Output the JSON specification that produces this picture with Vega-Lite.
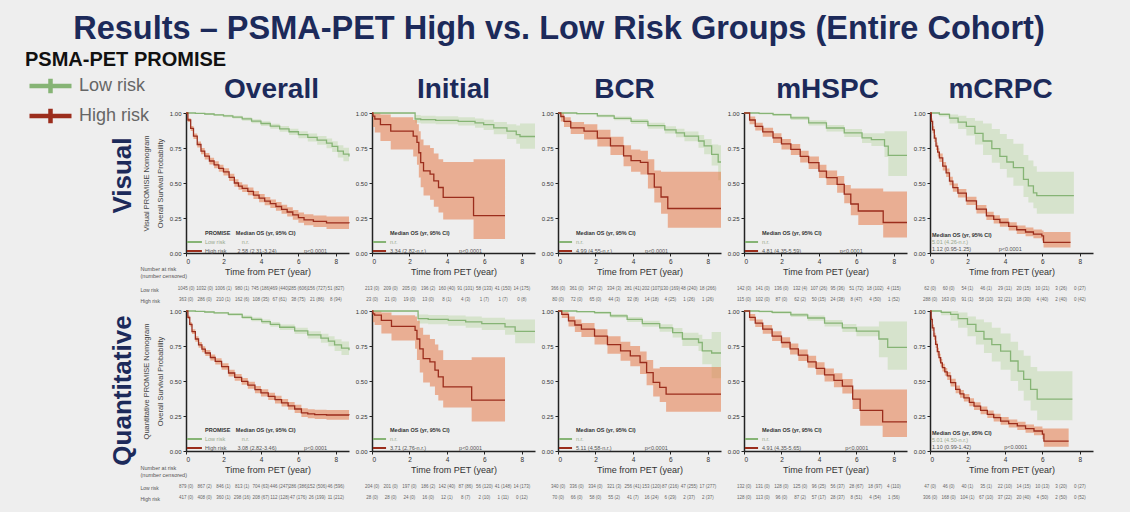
{
  "$schema": "https://vega.github.io/schema/vega-lite/v6.json",
  "background": "#eeeeee",
  "padding": {"left": 25, "top": 12, "right": 60, "bottom": 30},
  "title": {
    "text": "Results – PSMA-PET High vs. Low Risk Groups (Entire Cohort)",
    "fontSize": 32.5, "fontWeight": "bold", "color": "#1c2a5a",
    "anchor": "middle", "frame": "bounds", "offset": 5, "dx": 0
  },
  "config": {
    "font": "Liberation Sans",
    "view": {"stroke": null},
    "axis": {"grid": false, "domainColor": "#222222", "domainWidth": 1.5, "tickColor": "#222222", "tickSize": 3, "labelFontSize": 6, "labelColor": "#333333", "titleFontSize": 9, "titleFontWeight": "normal", "titleColor": "#333333", "labelPadding": 2},
    "axisX": {"titlePadding": 3, "labelFontSize": 6.5},
    "title": {"fontSize": 28, "fontWeight": "bold", "color": "#1c2a5a", "anchor": "middle", "frame": "group", "offset": 6}
  },
  "datasets": {
    "visual_overall": [
      {"risk":"Low risk","t":0,"s":1,"lo":1,"hi":1},
      {"risk":"Low risk","t":0.5,"s":0.997,"lo":0.993,"hi":1},
      {"risk":"Low risk","t":1,"s":0.993,"lo":0.987,"hi":0.998},
      {"risk":"Low risk","t":1.5,"s":0.987,"lo":0.979,"hi":0.993},
      {"risk":"Low risk","t":2,"s":0.98,"lo":0.97,"hi":0.988},
      {"risk":"Low risk","t":2.5,"s":0.971,"lo":0.96,"hi":0.981},
      {"risk":"Low risk","t":3,"s":0.958,"lo":0.945,"hi":0.97},
      {"risk":"Low risk","t":3.5,"s":0.942,"lo":0.927,"hi":0.956},
      {"risk":"Low risk","t":4,"s":0.925,"lo":0.908,"hi":0.941},
      {"risk":"Low risk","t":4.5,"s":0.906,"lo":0.887,"hi":0.924},
      {"risk":"Low risk","t":5,"s":0.887,"lo":0.866,"hi":0.907},
      {"risk":"Low risk","t":5.5,"s":0.866,"lo":0.843,"hi":0.888},
      {"risk":"Low risk","t":6,"s":0.845,"lo":0.819,"hi":0.869},
      {"risk":"Low risk","t":6.5,"s":0.826,"lo":0.797,"hi":0.853},
      {"risk":"Low risk","t":7,"s":0.806,"lo":0.774,"hi":0.836},
      {"risk":"Low risk","t":7.5,"s":0.785,"lo":0.749,"hi":0.818},
      {"risk":"Low risk","t":7.8,"s":0.762,"lo":0.722,"hi":0.799},
      {"risk":"Low risk","t":8.1,"s":0.728,"lo":0.682,"hi":0.77},
      {"risk":"Low risk","t":8.4,"s":0.706,"lo":0.655,"hi":0.752},
      {"risk":"Low risk","t":8.7,"s":0.69,"lo":0.636,"hi":0.74},
      {"risk":"High risk","t":0,"s":1,"lo":1,"hi":1},
      {"risk":"High risk","t":0.1,"s":0.95,"lo":0.935,"hi":0.963},
      {"risk":"High risk","t":0.25,"s":0.89,"lo":0.872,"hi":0.907},
      {"risk":"High risk","t":0.4,"s":0.835,"lo":0.815,"hi":0.854},
      {"risk":"High risk","t":0.6,"s":0.775,"lo":0.753,"hi":0.796},
      {"risk":"High risk","t":0.8,"s":0.728,"lo":0.705,"hi":0.75},
      {"risk":"High risk","t":1,"s":0.692,"lo":0.668,"hi":0.715},
      {"risk":"High risk","t":1.25,"s":0.657,"lo":0.632,"hi":0.681},
      {"risk":"High risk","t":1.5,"s":0.63,"lo":0.605,"hi":0.655},
      {"risk":"High risk","t":1.75,"s":0.605,"lo":0.58,"hi":0.63},
      {"risk":"High risk","t":2,"s":0.58,"lo":0.554,"hi":0.605},
      {"risk":"High risk","t":2.3,"s":0.54,"lo":0.514,"hi":0.566},
      {"risk":"High risk","t":2.58,"s":0.5,"lo":0.474,"hi":0.527},
      {"risk":"High risk","t":2.8,"s":0.478,"lo":0.451,"hi":0.505},
      {"risk":"High risk","t":3,"s":0.462,"lo":0.435,"hi":0.489},
      {"risk":"High risk","t":3.3,"s":0.44,"lo":0.412,"hi":0.467},
      {"risk":"High risk","t":3.6,"s":0.414,"lo":0.386,"hi":0.442},
      {"risk":"High risk","t":3.9,"s":0.392,"lo":0.363,"hi":0.421},
      {"risk":"High risk","t":4.2,"s":0.37,"lo":0.341,"hi":0.4},
      {"risk":"High risk","t":4.5,"s":0.352,"lo":0.322,"hi":0.383},
      {"risk":"High risk","t":4.8,"s":0.332,"lo":0.301,"hi":0.364},
      {"risk":"High risk","t":5.1,"s":0.312,"lo":0.28,"hi":0.345},
      {"risk":"High risk","t":5.4,"s":0.293,"lo":0.26,"hi":0.327},
      {"risk":"High risk","t":5.7,"s":0.272,"lo":0.238,"hi":0.308},
      {"risk":"High risk","t":6,"s":0.252,"lo":0.216,"hi":0.29},
      {"risk":"High risk","t":6.3,"s":0.236,"lo":0.198,"hi":0.276},
      {"risk":"High risk","t":6.8,"s":0.226,"lo":0.186,"hi":0.268},
      {"risk":"High risk","t":7.5,"s":0.215,"lo":0.172,"hi":0.26},
      {"risk":"High risk","t":8.7,"s":0.212,"lo":0.168,"hi":0.258}
    ],
    "visual_initial": [
      {"risk":"Low risk","t":0,"s":1,"lo":0.995,"hi":1},
      {"risk":"Low risk","t":2.3,"s":0.957,"lo":0.93,"hi":0.985},
      {"risk":"Low risk","t":2.6,"s":0.952,"lo":0.925,"hi":0.98},
      {"risk":"Low risk","t":3.4,"s":0.948,"lo":0.92,"hi":0.976},
      {"risk":"Low risk","t":4.6,"s":0.94,"lo":0.91,"hi":0.97},
      {"risk":"Low risk","t":5.5,"s":0.93,"lo":0.895,"hi":0.96},
      {"risk":"Low risk","t":5.96,"s":0.917,"lo":0.878,"hi":0.952},
      {"risk":"Low risk","t":6.5,"s":0.894,"lo":0.848,"hi":0.935},
      {"risk":"Low risk","t":7.2,"s":0.87,"lo":0.815,"hi":0.92},
      {"risk":"Low risk","t":7.7,"s":0.846,"lo":0.78,"hi":0.91},
      {"risk":"Low risk","t":7.9,"s":0.832,"lo":0.745,"hi":0.925},
      {"risk":"Low risk","t":8.7,"s":0.832,"lo":0.745,"hi":0.925},
      {"risk":"High risk","t":0,"s":1,"lo":1,"hi":1},
      {"risk":"High risk","t":0.05,"s":0.978,"lo":0.9,"hi":1},
      {"risk":"High risk","t":0.15,"s":0.957,"lo":0.86,"hi":1},
      {"risk":"High risk","t":0.45,"s":0.917,"lo":0.8,"hi":0.99},
      {"risk":"High risk","t":1,"s":0.87,"lo":0.74,"hi":0.97},
      {"risk":"High risk","t":2.2,"s":0.835,"lo":0.69,"hi":0.95},
      {"risk":"High risk","t":2.4,"s":0.79,"lo":0.63,"hi":0.92},
      {"risk":"High risk","t":2.5,"s":0.716,"lo":0.54,"hi":0.87},
      {"risk":"High risk","t":2.6,"s":0.645,"lo":0.47,"hi":0.81},
      {"risk":"High risk","t":2.75,"s":0.586,"lo":0.41,"hi":0.77},
      {"risk":"High risk","t":3.1,"s":0.563,"lo":0.38,"hi":0.75},
      {"risk":"High risk","t":3.3,"s":0.515,"lo":0.33,"hi":0.71},
      {"risk":"High risk","t":3.55,"s":0.468,"lo":0.29,"hi":0.67},
      {"risk":"High risk","t":3.8,"s":0.397,"lo":0.24,"hi":0.65},
      {"risk":"High risk","t":5.42,"s":0.267,"lo":0.1,"hi":0.67},
      {"risk":"High risk","t":7.1,"s":0.267,"lo":0.1,"hi":0.67}
    ],
    "visual_bcr": [
      {"risk":"Low risk","t":0,"s":1,"lo":1,"hi":1},
      {"risk":"Low risk","t":1,"s":0.995,"lo":0.99,"hi":1},
      {"risk":"Low risk","t":2.1,"s":0.98,"lo":0.97,"hi":0.99},
      {"risk":"Low risk","t":3,"s":0.962,"lo":0.948,"hi":0.975},
      {"risk":"Low risk","t":3.9,"s":0.94,"lo":0.922,"hi":0.957},
      {"risk":"Low risk","t":4.8,"s":0.91,"lo":0.888,"hi":0.93},
      {"risk":"Low risk","t":5.7,"s":0.88,"lo":0.853,"hi":0.905},
      {"risk":"Low risk","t":6.3,"s":0.858,"lo":0.826,"hi":0.887},
      {"risk":"Low risk","t":6.75,"s":0.835,"lo":0.798,"hi":0.868},
      {"risk":"Low risk","t":7.5,"s":0.8,"lo":0.752,"hi":0.843},
      {"risk":"Low risk","t":7.8,"s":0.765,"lo":0.706,"hi":0.815},
      {"risk":"Low risk","t":8.2,"s":0.705,"lo":0.625,"hi":0.775},
      {"risk":"Low risk","t":8.55,"s":0.65,"lo":0.52,"hi":0.77},
      {"risk":"Low risk","t":8.7,"s":0.65,"lo":0.52,"hi":0.77},
      {"risk":"High risk","t":0,"s":1,"lo":1,"hi":1},
      {"risk":"High risk","t":0.15,"s":0.975,"lo":0.94,"hi":1},
      {"risk":"High risk","t":0.32,"s":0.94,"lo":0.9,"hi":0.97},
      {"risk":"High risk","t":0.68,"s":0.894,"lo":0.85,"hi":0.935},
      {"risk":"High risk","t":1.39,"s":0.87,"lo":0.81,"hi":0.92},
      {"risk":"High risk","t":2.1,"s":0.82,"lo":0.76,"hi":0.88},
      {"risk":"High risk","t":2.8,"s":0.765,"lo":0.7,"hi":0.83},
      {"risk":"High risk","t":3.5,"s":0.694,"lo":0.62,"hi":0.77},
      {"risk":"High risk","t":3.9,"s":0.66,"lo":0.58,"hi":0.74},
      {"risk":"High risk","t":4.4,"s":0.647,"lo":0.56,"hi":0.73},
      {"risk":"High risk","t":4.8,"s":0.565,"lo":0.46,"hi":0.67},
      {"risk":"High risk","t":5.14,"s":0.47,"lo":0.36,"hi":0.59},
      {"risk":"High risk","t":5.5,"s":0.4,"lo":0.28,"hi":0.58},
      {"risk":"High risk","t":5.86,"s":0.318,"lo":0.18,"hi":0.58},
      {"risk":"High risk","t":8.7,"s":0.318,"lo":0.18,"hi":0.58}
    ],
    "visual_mhspc": [
      {"risk":"Low risk","t":0,"s":1,"lo":1,"hi":1},
      {"risk":"Low risk","t":0.8,"s":0.997,"lo":0.99,"hi":1},
      {"risk":"Low risk","t":1.55,"s":0.988,"lo":0.978,"hi":0.997},
      {"risk":"Low risk","t":2.5,"s":0.965,"lo":0.95,"hi":0.978},
      {"risk":"Low risk","t":3.45,"s":0.93,"lo":0.91,"hi":0.948},
      {"risk":"Low risk","t":4.4,"s":0.893,"lo":0.868,"hi":0.915},
      {"risk":"Low risk","t":5.35,"s":0.858,"lo":0.828,"hi":0.885},
      {"risk":"Low risk","t":6.3,"s":0.822,"lo":0.785,"hi":0.855},
      {"risk":"Low risk","t":6.8,"s":0.81,"lo":0.765,"hi":0.855},
      {"risk":"Low risk","t":7.5,"s":0.763,"lo":0.685,"hi":0.87},
      {"risk":"Low risk","t":7.7,"s":0.697,"lo":0.55,"hi":0.87},
      {"risk":"Low risk","t":8.7,"s":0.697,"lo":0.55,"hi":0.87},
      {"risk":"High risk","t":0,"s":1,"lo":1,"hi":1},
      {"risk":"High risk","t":0.3,"s":0.95,"lo":0.92,"hi":0.975},
      {"risk":"High risk","t":0.6,"s":0.905,"lo":0.875,"hi":0.93},
      {"risk":"High risk","t":1,"s":0.865,"lo":0.83,"hi":0.895},
      {"risk":"High risk","t":1.55,"s":0.822,"lo":0.785,"hi":0.855},
      {"risk":"High risk","t":2,"s":0.78,"lo":0.74,"hi":0.815},
      {"risk":"High risk","t":2.5,"s":0.74,"lo":0.7,"hi":0.778},
      {"risk":"High risk","t":3,"s":0.69,"lo":0.647,"hi":0.73},
      {"risk":"High risk","t":3.45,"s":0.645,"lo":0.6,"hi":0.69},
      {"risk":"High risk","t":4,"s":0.585,"lo":0.535,"hi":0.63},
      {"risk":"High risk","t":4.4,"s":0.538,"lo":0.485,"hi":0.59},
      {"risk":"High risk","t":4.97,"s":0.49,"lo":0.43,"hi":0.55},
      {"risk":"High risk","t":5.35,"s":0.42,"lo":0.355,"hi":0.485},
      {"risk":"High risk","t":5.7,"s":0.35,"lo":0.27,"hi":0.46},
      {"risk":"High risk","t":6.1,"s":0.3,"lo":0.2,"hi":0.46},
      {"risk":"High risk","t":7.43,"s":0.218,"lo":0.11,"hi":0.44},
      {"risk":"High risk","t":8.7,"s":0.218,"lo":0.11,"hi":0.44}
    ],
    "visual_mcrpc": [
      {"risk":"Low risk","t":0,"s":1,"lo":1,"hi":1},
      {"risk":"Low risk","t":0.5,"s":0.99,"lo":0.975,"hi":1},
      {"risk":"Low risk","t":1.04,"s":0.964,"lo":0.925,"hi":0.99},
      {"risk":"Low risk","t":1.5,"s":0.935,"lo":0.885,"hi":0.98},
      {"risk":"Low risk","t":1.94,"s":0.905,"lo":0.84,"hi":0.965},
      {"risk":"Low risk","t":2.4,"s":0.855,"lo":0.775,"hi":0.945},
      {"risk":"Low risk","t":2.83,"s":0.8,"lo":0.7,"hi":0.925},
      {"risk":"Low risk","t":3.3,"s":0.745,"lo":0.645,"hi":0.885},
      {"risk":"Low risk","t":3.73,"s":0.69,"lo":0.6,"hi":0.85},
      {"risk":"Low risk","t":4.1,"s":0.65,"lo":0.54,"hi":0.815},
      {"risk":"Low risk","t":4.45,"s":0.61,"lo":0.48,"hi":0.78},
      {"risk":"Low risk","t":4.99,"s":0.526,"lo":0.4,"hi":0.7},
      {"risk":"Low risk","t":5.25,"s":0.48,"lo":0.36,"hi":0.66},
      {"risk":"Low risk","t":5.52,"s":0.43,"lo":0.32,"hi":0.62},
      {"risk":"Low risk","t":5.7,"s":0.41,"lo":0.28,"hi":0.58},
      {"risk":"Low risk","t":7.68,"s":0.41,"lo":0.28,"hi":0.58},
      {"risk":"High risk","t":0,"s":1,"lo":1,"hi":1},
      {"risk":"High risk","t":0.07,"s":0.94,"lo":0.92,"hi":0.96},
      {"risk":"High risk","t":0.14,"s":0.88,"lo":0.855,"hi":0.905},
      {"risk":"High risk","t":0.23,"s":0.82,"lo":0.793,"hi":0.845},
      {"risk":"High risk","t":0.32,"s":0.763,"lo":0.735,"hi":0.79},
      {"risk":"High risk","t":0.41,"s":0.72,"lo":0.69,"hi":0.748},
      {"risk":"High risk","t":0.5,"s":0.68,"lo":0.65,"hi":0.71},
      {"risk":"High risk","t":0.68,"s":0.62,"lo":0.59,"hi":0.65},
      {"risk":"High risk","t":0.86,"s":0.573,"lo":0.543,"hi":0.603},
      {"risk":"High risk","t":1.04,"s":0.514,"lo":0.484,"hi":0.544},
      {"risk":"High risk","t":1.22,"s":0.467,"lo":0.437,"hi":0.497},
      {"risk":"High risk","t":1.49,"s":0.427,"lo":0.397,"hi":0.457},
      {"risk":"High risk","t":1.94,"s":0.372,"lo":0.342,"hi":0.402},
      {"risk":"High risk","t":2.48,"s":0.313,"lo":0.283,"hi":0.343},
      {"risk":"High risk","t":3.01,"s":0.265,"lo":0.236,"hi":0.295},
      {"risk":"High risk","t":3.4,"s":0.24,"lo":0.21,"hi":0.27},
      {"risk":"High risk","t":3.73,"s":0.218,"lo":0.188,"hi":0.248},
      {"risk":"High risk","t":4.2,"s":0.19,"lo":0.16,"hi":0.22},
      {"risk":"High risk","t":4.63,"s":0.166,"lo":0.136,"hi":0.197},
      {"risk":"High risk","t":5.1,"s":0.15,"lo":0.12,"hi":0.182},
      {"risk":"High risk","t":5.52,"s":0.135,"lo":0.105,"hi":0.168},
      {"risk":"High risk","t":5.97,"s":0.123,"lo":0.09,"hi":0.16},
      {"risk":"High risk","t":6.06,"s":0.076,"lo":0.04,"hi":0.15},
      {"risk":"High risk","t":7.5,"s":0.076,"lo":0.04,"hi":0.15}
    ],
    "quant_overall": [
      {"risk":"Low risk","t":0,"s":1,"lo":1,"hi":1},
      {"risk":"Low risk","t":0.5,"s":0.997,"lo":0.993,"hi":1},
      {"risk":"Low risk","t":1,"s":0.993,"lo":0.987,"hi":0.998},
      {"risk":"Low risk","t":1.5,"s":0.987,"lo":0.98,"hi":0.993},
      {"risk":"Low risk","t":2.26,"s":0.976,"lo":0.966,"hi":0.985},
      {"risk":"Low risk","t":3,"s":0.955,"lo":0.943,"hi":0.967},
      {"risk":"Low risk","t":3.5,"s":0.94,"lo":0.926,"hi":0.953},
      {"risk":"Low risk","t":4.04,"s":0.924,"lo":0.908,"hi":0.939},
      {"risk":"Low risk","t":4.5,"s":0.905,"lo":0.887,"hi":0.922},
      {"risk":"Low risk","t":5,"s":0.884,"lo":0.864,"hi":0.903},
      {"risk":"Low risk","t":5.8,"s":0.858,"lo":0.835,"hi":0.88},
      {"risk":"Low risk","t":6.5,"s":0.83,"lo":0.803,"hi":0.856},
      {"risk":"Low risk","t":7.2,"s":0.806,"lo":0.774,"hi":0.837},
      {"risk":"Low risk","t":7.6,"s":0.785,"lo":0.748,"hi":0.82},
      {"risk":"Low risk","t":7.93,"s":0.758,"lo":0.715,"hi":0.798},
      {"risk":"Low risk","t":8.3,"s":0.735,"lo":0.685,"hi":0.782},
      {"risk":"Low risk","t":8.7,"s":0.72,"lo":0.665,"hi":0.772},
      {"risk":"High risk","t":0,"s":1,"lo":1,"hi":1},
      {"risk":"High risk","t":0.1,"s":0.955,"lo":0.942,"hi":0.967},
      {"risk":"High risk","t":0.2,"s":0.905,"lo":0.889,"hi":0.92},
      {"risk":"High risk","t":0.32,"s":0.853,"lo":0.835,"hi":0.87},
      {"risk":"High risk","t":0.5,"s":0.8,"lo":0.781,"hi":0.819},
      {"risk":"High risk","t":0.67,"s":0.758,"lo":0.738,"hi":0.778},
      {"risk":"High risk","t":0.85,"s":0.727,"lo":0.706,"hi":0.748},
      {"risk":"High risk","t":1.03,"s":0.7,"lo":0.678,"hi":0.721},
      {"risk":"High risk","t":1.3,"s":0.668,"lo":0.646,"hi":0.69},
      {"risk":"High risk","t":1.56,"s":0.64,"lo":0.617,"hi":0.662},
      {"risk":"High risk","t":1.9,"s":0.603,"lo":0.58,"hi":0.626},
      {"risk":"High risk","t":2.27,"s":0.557,"lo":0.533,"hi":0.58},
      {"risk":"High risk","t":2.6,"s":0.526,"lo":0.502,"hi":0.55},
      {"risk":"High risk","t":2.97,"s":0.498,"lo":0.473,"hi":0.522},
      {"risk":"High risk","t":3.3,"s":0.47,"lo":0.445,"hi":0.495},
      {"risk":"High risk","t":3.68,"s":0.438,"lo":0.413,"hi":0.464},
      {"risk":"High risk","t":4,"s":0.415,"lo":0.389,"hi":0.441},
      {"risk":"High risk","t":4.39,"s":0.39,"lo":0.364,"hi":0.416},
      {"risk":"High risk","t":4.75,"s":0.367,"lo":0.34,"hi":0.394},
      {"risk":"High risk","t":5.1,"s":0.344,"lo":0.317,"hi":0.372},
      {"risk":"High risk","t":5.45,"s":0.322,"lo":0.294,"hi":0.35},
      {"risk":"High risk","t":5.8,"s":0.3,"lo":0.271,"hi":0.33},
      {"risk":"High risk","t":6.16,"s":0.273,"lo":0.243,"hi":0.305},
      {"risk":"High risk","t":6.5,"s":0.265,"lo":0.234,"hi":0.298},
      {"risk":"High risk","t":6.87,"s":0.26,"lo":0.228,"hi":0.294},
      {"risk":"High risk","t":7.5,"s":0.257,"lo":0.224,"hi":0.292},
      {"risk":"High risk","t":8.7,"s":0.256,"lo":0.222,"hi":0.291}
    ],
    "quant_initial": [
      {"risk":"Low risk","t":0,"s":1,"lo":0.995,"hi":1},
      {"risk":"Low risk","t":2.46,"s":0.945,"lo":0.91,"hi":0.975},
      {"risk":"Low risk","t":3,"s":0.94,"lo":0.905,"hi":0.972},
      {"risk":"Low risk","t":4.07,"s":0.933,"lo":0.895,"hi":0.968},
      {"risk":"Low risk","t":5,"s":0.922,"lo":0.88,"hi":0.96},
      {"risk":"Low risk","t":5.86,"s":0.91,"lo":0.865,"hi":0.952},
      {"risk":"Low risk","t":7.1,"s":0.886,"lo":0.83,"hi":0.94},
      {"risk":"Low risk","t":7.64,"s":0.855,"lo":0.77,"hi":0.94},
      {"risk":"Low risk","t":8.7,"s":0.855,"lo":0.77,"hi":0.94},
      {"risk":"High risk","t":0,"s":1,"lo":1,"hi":1},
      {"risk":"High risk","t":0.05,"s":0.98,"lo":0.92,"hi":1},
      {"risk":"High risk","t":0.14,"s":0.97,"lo":0.9,"hi":1},
      {"risk":"High risk","t":0.5,"s":0.933,"lo":0.84,"hi":0.99},
      {"risk":"High risk","t":1.04,"s":0.89,"lo":0.79,"hi":0.97},
      {"risk":"High risk","t":2.3,"s":0.862,"lo":0.73,"hi":0.96},
      {"risk":"High risk","t":2.4,"s":0.8,"lo":0.65,"hi":0.93},
      {"risk":"High risk","t":2.55,"s":0.73,"lo":0.56,"hi":0.88},
      {"risk":"High risk","t":2.73,"s":0.66,"lo":0.49,"hi":0.83},
      {"risk":"High risk","t":3.09,"s":0.637,"lo":0.46,"hi":0.8},
      {"risk":"High risk","t":3.36,"s":0.577,"lo":0.4,"hi":0.76},
      {"risk":"High risk","t":3.54,"s":0.53,"lo":0.36,"hi":0.72},
      {"risk":"High risk","t":3.8,"s":0.458,"lo":0.31,"hi":0.65},
      {"risk":"High risk","t":5.32,"s":0.363,"lo":0.21,"hi":0.67},
      {"risk":"High risk","t":7.1,"s":0.363,"lo":0.21,"hi":0.67}
    ],
    "quant_bcr": [
      {"risk":"Low risk","t":0,"s":1,"lo":1,"hi":1},
      {"risk":"Low risk","t":1,"s":0.995,"lo":0.99,"hi":1},
      {"risk":"Low risk","t":1.95,"s":0.988,"lo":0.978,"hi":0.996},
      {"risk":"Low risk","t":2.8,"s":0.965,"lo":0.951,"hi":0.978},
      {"risk":"Low risk","t":3.69,"s":0.94,"lo":0.922,"hi":0.957},
      {"risk":"Low risk","t":4.5,"s":0.91,"lo":0.888,"hi":0.931},
      {"risk":"Low risk","t":5.43,"s":0.88,"lo":0.852,"hi":0.905},
      {"risk":"Low risk","t":6.12,"s":0.846,"lo":0.81,"hi":0.878},
      {"risk":"Low risk","t":6.64,"s":0.8,"lo":0.75,"hi":0.845},
      {"risk":"Low risk","t":7.5,"s":0.775,"lo":0.715,"hi":0.83},
      {"risk":"Low risk","t":7.7,"s":0.715,"lo":0.62,"hi":0.8},
      {"risk":"Low risk","t":8.2,"s":0.7,"lo":0.52,"hi":0.85},
      {"risk":"Low risk","t":8.7,"s":0.7,"lo":0.52,"hi":0.85},
      {"risk":"High risk","t":0,"s":1,"lo":1,"hi":1},
      {"risk":"High risk","t":0.2,"s":0.976,"lo":0.95,"hi":0.995},
      {"risk":"High risk","t":0.56,"s":0.93,"lo":0.89,"hi":0.96},
      {"risk":"High risk","t":0.9,"s":0.9,"lo":0.85,"hi":0.94},
      {"risk":"High risk","t":1.25,"s":0.87,"lo":0.815,"hi":0.915},
      {"risk":"High risk","t":1.95,"s":0.82,"lo":0.76,"hi":0.87},
      {"risk":"High risk","t":2.64,"s":0.76,"lo":0.695,"hi":0.82},
      {"risk":"High risk","t":3.34,"s":0.715,"lo":0.645,"hi":0.78},
      {"risk":"High risk","t":3.86,"s":0.68,"lo":0.605,"hi":0.75},
      {"risk":"High risk","t":4.38,"s":0.632,"lo":0.55,"hi":0.71},
      {"risk":"High risk","t":4.73,"s":0.56,"lo":0.47,"hi":0.65},
      {"risk":"High risk","t":5.08,"s":0.49,"lo":0.39,"hi":0.59},
      {"risk":"High risk","t":5.43,"s":0.454,"lo":0.35,"hi":0.6},
      {"risk":"High risk","t":5.77,"s":0.406,"lo":0.28,"hi":0.6},
      {"risk":"High risk","t":8.7,"s":0.406,"lo":0.28,"hi":0.6}
    ],
    "quant_mhspc": [
      {"risk":"Low risk","t":0,"s":1,"lo":1,"hi":1},
      {"risk":"Low risk","t":0.8,"s":0.997,"lo":0.99,"hi":1},
      {"risk":"Low risk","t":1.5,"s":0.99,"lo":0.98,"hi":0.998},
      {"risk":"Low risk","t":2.5,"s":0.972,"lo":0.958,"hi":0.985},
      {"risk":"Low risk","t":3.4,"s":0.95,"lo":0.93,"hi":0.967},
      {"risk":"Low risk","t":4.3,"s":0.914,"lo":0.89,"hi":0.935},
      {"risk":"Low risk","t":5.25,"s":0.88,"lo":0.85,"hi":0.908},
      {"risk":"Low risk","t":6,"s":0.856,"lo":0.82,"hi":0.89},
      {"risk":"Low risk","t":7.2,"s":0.8,"lo":0.67,"hi":0.925},
      {"risk":"Low risk","t":7.67,"s":0.74,"lo":0.58,"hi":0.925},
      {"risk":"Low risk","t":8.7,"s":0.74,"lo":0.58,"hi":0.925},
      {"risk":"High risk","t":0,"s":1,"lo":1,"hi":1},
      {"risk":"High risk","t":0.3,"s":0.955,"lo":0.93,"hi":0.978},
      {"risk":"High risk","t":0.6,"s":0.914,"lo":0.885,"hi":0.94},
      {"risk":"High risk","t":1,"s":0.87,"lo":0.837,"hi":0.9},
      {"risk":"High risk","t":1.5,"s":0.82,"lo":0.785,"hi":0.855},
      {"risk":"High risk","t":2,"s":0.775,"lo":0.737,"hi":0.812},
      {"risk":"High risk","t":2.46,"s":0.73,"lo":0.69,"hi":0.768},
      {"risk":"High risk","t":2.9,"s":0.685,"lo":0.643,"hi":0.725},
      {"risk":"High risk","t":3.4,"s":0.637,"lo":0.594,"hi":0.68},
      {"risk":"High risk","t":3.85,"s":0.59,"lo":0.545,"hi":0.634},
      {"risk":"High risk","t":4.3,"s":0.544,"lo":0.497,"hi":0.59},
      {"risk":"High risk","t":4.8,"s":0.505,"lo":0.455,"hi":0.555},
      {"risk":"High risk","t":5.25,"s":0.463,"lo":0.41,"hi":0.515},
      {"risk":"High risk","t":5.8,"s":0.37,"lo":0.3,"hi":0.44},
      {"risk":"High risk","t":6.2,"s":0.29,"lo":0.18,"hi":0.44},
      {"risk":"High risk","t":7.4,"s":0.208,"lo":0.1,"hi":0.44},
      {"risk":"High risk","t":8.7,"s":0.208,"lo":0.1,"hi":0.44}
    ],
    "quant_mcrpc": [
      {"risk":"Low risk","t":0,"s":1,"lo":1,"hi":1},
      {"risk":"Low risk","t":0.6,"s":0.99,"lo":0.97,"hi":1},
      {"risk":"Low risk","t":1.1,"s":0.976,"lo":0.93,"hi":1},
      {"risk":"Low risk","t":1.5,"s":0.945,"lo":0.88,"hi":0.99},
      {"risk":"Low risk","t":2,"s":0.905,"lo":0.82,"hi":0.96},
      {"risk":"Low risk","t":2.45,"s":0.855,"lo":0.76,"hi":0.94},
      {"risk":"Low risk","t":2.88,"s":0.8,"lo":0.7,"hi":0.92},
      {"risk":"Low risk","t":3.3,"s":0.76,"lo":0.64,"hi":0.88},
      {"risk":"Low risk","t":3.77,"s":0.714,"lo":0.58,"hi":0.84},
      {"risk":"Low risk","t":4.3,"s":0.643,"lo":0.5,"hi":0.78},
      {"risk":"Low risk","t":4.7,"s":0.57,"lo":0.43,"hi":0.72},
      {"risk":"Low risk","t":5,"s":0.512,"lo":0.36,"hi":0.68},
      {"risk":"Low risk","t":5.37,"s":0.44,"lo":0.29,"hi":0.6},
      {"risk":"Low risk","t":5.72,"s":0.37,"lo":0.22,"hi":0.57},
      {"risk":"Low risk","t":7.6,"s":0.37,"lo":0.22,"hi":0.57},
      {"risk":"High risk","t":0,"s":1,"lo":1,"hi":1},
      {"risk":"High risk","t":0.06,"s":0.94,"lo":0.92,"hi":0.96},
      {"risk":"High risk","t":0.12,"s":0.88,"lo":0.857,"hi":0.903},
      {"risk":"High risk","t":0.21,"s":0.82,"lo":0.795,"hi":0.845},
      {"risk":"High risk","t":0.3,"s":0.762,"lo":0.736,"hi":0.788},
      {"risk":"High risk","t":0.39,"s":0.71,"lo":0.683,"hi":0.737},
      {"risk":"High risk","t":0.48,"s":0.667,"lo":0.64,"hi":0.694},
      {"risk":"High risk","t":0.57,"s":0.63,"lo":0.602,"hi":0.658},
      {"risk":"High risk","t":0.66,"s":0.595,"lo":0.567,"hi":0.623},
      {"risk":"High risk","t":0.79,"s":0.565,"lo":0.537,"hi":0.593},
      {"risk":"High risk","t":0.92,"s":0.536,"lo":0.508,"hi":0.564},
      {"risk":"High risk","t":1.1,"s":0.488,"lo":0.46,"hi":0.516},
      {"risk":"High risk","t":1.37,"s":0.44,"lo":0.413,"hi":0.468},
      {"risk":"High risk","t":1.6,"s":0.408,"lo":0.38,"hi":0.436},
      {"risk":"High risk","t":1.81,"s":0.38,"lo":0.353,"hi":0.408},
      {"risk":"High risk","t":2.1,"s":0.348,"lo":0.32,"hi":0.376},
      {"risk":"High risk","t":2.35,"s":0.32,"lo":0.293,"hi":0.348},
      {"risk":"High risk","t":2.7,"s":0.29,"lo":0.263,"hi":0.318},
      {"risk":"High risk","t":3.06,"s":0.262,"lo":0.235,"hi":0.29},
      {"risk":"High risk","t":3.4,"s":0.238,"lo":0.211,"hi":0.266},
      {"risk":"High risk","t":3.77,"s":0.214,"lo":0.187,"hi":0.242},
      {"risk":"High risk","t":4.2,"s":0.196,"lo":0.168,"hi":0.225},
      {"risk":"High risk","t":4.66,"s":0.179,"lo":0.15,"hi":0.209},
      {"risk":"High risk","t":5.1,"s":0.16,"lo":0.13,"hi":0.19},
      {"risk":"High risk","t":5.55,"s":0.143,"lo":0.112,"hi":0.175},
      {"risk":"High risk","t":6,"s":0.12,"lo":0.085,"hi":0.16},
      {"risk":"High risk","t":6.08,"s":0.071,"lo":0.03,"hi":0.16},
      {"risk":"High risk","t":7.4,"s":0.071,"lo":0.03,"hi":0.16}
    ],
    "insets": [
      {"method":"Visual","group":"Overall","line":"head","label":"PROMISE\u2003Median OS (yr, 95% CI)"},
      {"method":"Visual","group":"Overall","line":"Low risk","label":"Low risk\u2003\u2003\u2003n.r."},
      {"method":"Visual","group":"Overall","line":"High risk","label":"High risk\u2003\u20032.58 (2.31-3.24)\u2003\u2003\u2003\u2003\u2003p<0.0001"},
      {"method":"Visual","group":"Initial","line":"head","label":"Median OS (yr, 95% CI)"},
      {"method":"Visual","group":"Initial","line":"Low risk","label":"n.r."},
      {"method":"Visual","group":"Initial","line":"High risk","label":"3.34 (2.82-n.r.)\u2003\u2003\u2003\u2003\u2003\u2003p<0.0001"},
      {"method":"Visual","group":"BCR","line":"head","label":"Median OS (yr, 95% CI)"},
      {"method":"Visual","group":"BCR","line":"Low risk","label":"n.r."},
      {"method":"Visual","group":"BCR","line":"High risk","label":"4.99 (4.55-n.r.)\u2003\u2003\u2003\u2003\u2003\u2003p<0.0001"},
      {"method":"Visual","group":"mHSPC","line":"head","label":"Median OS (yr, 95% CI)"},
      {"method":"Visual","group":"mHSPC","line":"Low risk","label":"n.r."},
      {"method":"Visual","group":"mHSPC","line":"High risk","label":"4.81 (4.35-5.59)\u2003\u2003\u2003\u2003\u2003\u2003\u2003p<0.0001"},
      {"method":"Visual","group":"mCRPC","line":"head","label":"Median OS (yr, 95% CI)"},
      {"method":"Visual","group":"mCRPC","line":"Low risk","label":"5.01 (4.26-n.r.)"},
      {"method":"Visual","group":"mCRPC","line":"High risk","label":"1.12 (0.95-1.25)\u2003\u2003\u2003\u2003\u2003p<0.0001"},
      {"method":"Quantitative","group":"Overall","line":"head","label":"PROMISE\u2003Median OS (yr, 95% CI)"},
      {"method":"Quantitative","group":"Overall","line":"Low risk","label":"Low risk\u2003\u2003\u2003n.r."},
      {"method":"Quantitative","group":"Overall","line":"High risk","label":"High risk\u2003\u20033.08 (2.82-3.46)\u2003\u2003\u2003\u2003\u2003p<0.0001"},
      {"method":"Quantitative","group":"Initial","line":"head","label":"Median OS (yr, 95% CI)"},
      {"method":"Quantitative","group":"Initial","line":"Low risk","label":"n.r."},
      {"method":"Quantitative","group":"Initial","line":"High risk","label":"3.71 (2.76-n.r.)\u2003\u2003\u2003\u2003\u2003\u2003p<0.0001"},
      {"method":"Quantitative","group":"BCR","line":"head","label":"Median OS (yr, 95% CI)"},
      {"method":"Quantitative","group":"BCR","line":"Low risk","label":"n.r."},
      {"method":"Quantitative","group":"BCR","line":"High risk","label":"5.11 (4.58-n.r.)\u2003\u2003\u2003\u2003\u2003\u2003p<0.0001"},
      {"method":"Quantitative","group":"mHSPC","line":"head","label":"Median OS (yr, 95% CI)"},
      {"method":"Quantitative","group":"mHSPC","line":"Low risk","label":"n.r."},
      {"method":"Quantitative","group":"mHSPC","line":"High risk","label":"4.91 (4.35-5.65)\u2003\u2003\u2003\u2003\u2003\u2003\u2003\u2003p<0.0001"},
      {"method":"Quantitative","group":"mCRPC","line":"head","label":"Median OS (yr, 95% CI)"},
      {"method":"Quantitative","group":"mCRPC","line":"Low risk","label":"5.01 (4.50-n.r.)"},
      {"method":"Quantitative","group":"mCRPC","line":"High risk","label":"1.10 (0.99-1.42)\u2003\u2003\u2003\u2003\u2003\u2003p<0.0001"}
    ],
    "atrisk": [
      {"method":"Visual","group":"Overall","risk":"Low risk","t":0,"label":"1045 (0)"},
      {"method":"Visual","group":"Overall","risk":"Low risk","t":1,"label":"1032 (0)"},
      {"method":"Visual","group":"Overall","risk":"Low risk","t":2,"label":"1006 (1)"},
      {"method":"Visual","group":"Overall","risk":"Low risk","t":3,"label":"980 (1)"},
      {"method":"Visual","group":"Overall","risk":"Low risk","t":4,"label":"745 (186)"},
      {"method":"Visual","group":"Overall","risk":"Low risk","t":5,"label":"469 (440)"},
      {"method":"Visual","group":"Overall","risk":"Low risk","t":6,"label":"285 (606)"},
      {"method":"Visual","group":"Overall","risk":"Low risk","t":7,"label":"156 (727)"},
      {"method":"Visual","group":"Overall","risk":"Low risk","t":8,"label":"51 (827)"},
      {"method":"Visual","group":"Overall","risk":"High risk","t":0,"label":"363 (0)"},
      {"method":"Visual","group":"Overall","risk":"High risk","t":1,"label":"286 (0)"},
      {"method":"Visual","group":"Overall","risk":"High risk","t":2,"label":"210 (1)"},
      {"method":"Visual","group":"Overall","risk":"High risk","t":3,"label":"162 (6)"},
      {"method":"Visual","group":"Overall","risk":"High risk","t":4,"label":"108 (35)"},
      {"method":"Visual","group":"Overall","risk":"High risk","t":5,"label":"67 (61)"},
      {"method":"Visual","group":"Overall","risk":"High risk","t":6,"label":"38 (75)"},
      {"method":"Visual","group":"Overall","risk":"High risk","t":7,"label":"21 (86)"},
      {"method":"Visual","group":"Overall","risk":"High risk","t":8,"label":"8 (94)"},
      {"method":"Visual","group":"Initial","risk":"Low risk","t":0,"label":"213 (0)"},
      {"method":"Visual","group":"Initial","risk":"Low risk","t":1,"label":"209 (0)"},
      {"method":"Visual","group":"Initial","risk":"Low risk","t":2,"label":"205 (0)"},
      {"method":"Visual","group":"Initial","risk":"Low risk","t":3,"label":"196 (2)"},
      {"method":"Visual","group":"Initial","risk":"Low risk","t":4,"label":"160 (40)"},
      {"method":"Visual","group":"Initial","risk":"Low risk","t":5,"label":"91 (101)"},
      {"method":"Visual","group":"Initial","risk":"Low risk","t":6,"label":"58 (133)"},
      {"method":"Visual","group":"Initial","risk":"Low risk","t":7,"label":"41 (150)"},
      {"method":"Visual","group":"Initial","risk":"Low risk","t":8,"label":"14 (175)"},
      {"method":"Visual","group":"Initial","risk":"High risk","t":0,"label":"23 (0)"},
      {"method":"Visual","group":"Initial","risk":"High risk","t":1,"label":"21 (0)"},
      {"method":"Visual","group":"Initial","risk":"High risk","t":2,"label":"19 (0)"},
      {"method":"Visual","group":"Initial","risk":"High risk","t":3,"label":"13 (0)"},
      {"method":"Visual","group":"Initial","risk":"High risk","t":4,"label":"8 (1)"},
      {"method":"Visual","group":"Initial","risk":"High risk","t":5,"label":"4 (3)"},
      {"method":"Visual","group":"Initial","risk":"High risk","t":6,"label":"1 (7)"},
      {"method":"Visual","group":"Initial","risk":"High risk","t":7,"label":"1 (7)"},
      {"method":"Visual","group":"Initial","risk":"High risk","t":8,"label":"0 (8)"},
      {"method":"Visual","group":"BCR","risk":"Low risk","t":0,"label":"366 (0)"},
      {"method":"Visual","group":"BCR","risk":"Low risk","t":1,"label":"361 (0)"},
      {"method":"Visual","group":"BCR","risk":"Low risk","t":2,"label":"347 (2)"},
      {"method":"Visual","group":"BCR","risk":"Low risk","t":3,"label":"334 (3)"},
      {"method":"Visual","group":"BCR","risk":"Low risk","t":4,"label":"281 (41)"},
      {"method":"Visual","group":"BCR","risk":"Low risk","t":5,"label":"202 (107)"},
      {"method":"Visual","group":"BCR","risk":"Low risk","t":6,"label":"130 (169)"},
      {"method":"Visual","group":"BCR","risk":"Low risk","t":7,"label":"48 (240)"},
      {"method":"Visual","group":"BCR","risk":"Low risk","t":8,"label":"18 (266)"},
      {"method":"Visual","group":"BCR","risk":"High risk","t":0,"label":"80 (0)"},
      {"method":"Visual","group":"BCR","risk":"High risk","t":1,"label":"72 (0)"},
      {"method":"Visual","group":"BCR","risk":"High risk","t":2,"label":"65 (0)"},
      {"method":"Visual","group":"BCR","risk":"High risk","t":3,"label":"44 (3)"},
      {"method":"Visual","group":"BCR","risk":"High risk","t":4,"label":"32 (8)"},
      {"method":"Visual","group":"BCR","risk":"High risk","t":5,"label":"14 (18)"},
      {"method":"Visual","group":"BCR","risk":"High risk","t":6,"label":"4 (25)"},
      {"method":"Visual","group":"BCR","risk":"High risk","t":7,"label":"1 (26)"},
      {"method":"Visual","group":"BCR","risk":"High risk","t":8,"label":"1 (26)"},
      {"method":"Visual","group":"mHSPC","risk":"Low risk","t":0,"label":"142 (0)"},
      {"method":"Visual","group":"mHSPC","risk":"Low risk","t":1,"label":"141 (0)"},
      {"method":"Visual","group":"mHSPC","risk":"Low risk","t":2,"label":"136 (0)"},
      {"method":"Visual","group":"mHSPC","risk":"Low risk","t":3,"label":"132 (4)"},
      {"method":"Visual","group":"mHSPC","risk":"Low risk","t":4,"label":"107 (26)"},
      {"method":"Visual","group":"mHSPC","risk":"Low risk","t":5,"label":"95 (36)"},
      {"method":"Visual","group":"mHSPC","risk":"Low risk","t":6,"label":"51 (72)"},
      {"method":"Visual","group":"mHSPC","risk":"Low risk","t":7,"label":"18 (102)"},
      {"method":"Visual","group":"mHSPC","risk":"Low risk","t":8,"label":"4 (115)"},
      {"method":"Visual","group":"mHSPC","risk":"High risk","t":0,"label":"115 (0)"},
      {"method":"Visual","group":"mHSPC","risk":"High risk","t":1,"label":"102 (0)"},
      {"method":"Visual","group":"mHSPC","risk":"High risk","t":2,"label":"87 (0)"},
      {"method":"Visual","group":"mHSPC","risk":"High risk","t":3,"label":"62 (2)"},
      {"method":"Visual","group":"mHSPC","risk":"High risk","t":4,"label":"50 (15)"},
      {"method":"Visual","group":"mHSPC","risk":"High risk","t":5,"label":"24 (38)"},
      {"method":"Visual","group":"mHSPC","risk":"High risk","t":6,"label":"8 (47)"},
      {"method":"Visual","group":"mHSPC","risk":"High risk","t":7,"label":"4 (50)"},
      {"method":"Visual","group":"mHSPC","risk":"High risk","t":8,"label":"1 (52)"},
      {"method":"Visual","group":"mCRPC","risk":"Low risk","t":0,"label":"62 (0)"},
      {"method":"Visual","group":"mCRPC","risk":"Low risk","t":1,"label":"60 (0)"},
      {"method":"Visual","group":"mCRPC","risk":"Low risk","t":2,"label":"54 (1)"},
      {"method":"Visual","group":"mCRPC","risk":"Low risk","t":3,"label":"46 (1)"},
      {"method":"Visual","group":"mCRPC","risk":"Low risk","t":4,"label":"29 (11)"},
      {"method":"Visual","group":"mCRPC","risk":"Low risk","t":5,"label":"20 (15)"},
      {"method":"Visual","group":"mCRPC","risk":"Low risk","t":6,"label":"10 (21)"},
      {"method":"Visual","group":"mCRPC","risk":"Low risk","t":7,"label":"3 (26)"},
      {"method":"Visual","group":"mCRPC","risk":"Low risk","t":8,"label":"0 (27)"},
      {"method":"Visual","group":"mCRPC","risk":"High risk","t":0,"label":"288 (0)"},
      {"method":"Visual","group":"mCRPC","risk":"High risk","t":1,"label":"163 (0)"},
      {"method":"Visual","group":"mCRPC","risk":"High risk","t":2,"label":"91 (1)"},
      {"method":"Visual","group":"mCRPC","risk":"High risk","t":3,"label":"58 (10)"},
      {"method":"Visual","group":"mCRPC","risk":"High risk","t":4,"label":"32 (21)"},
      {"method":"Visual","group":"mCRPC","risk":"High risk","t":5,"label":"18 (30)"},
      {"method":"Visual","group":"mCRPC","risk":"High risk","t":6,"label":"4 (40)"},
      {"method":"Visual","group":"mCRPC","risk":"High risk","t":7,"label":"2 (40)"},
      {"method":"Visual","group":"mCRPC","risk":"High risk","t":8,"label":"0 (42)"},
      {"method":"Quantitative","group":"Overall","risk":"Low risk","t":0,"label":"879 (0)"},
      {"method":"Quantitative","group":"Overall","risk":"Low risk","t":1,"label":"867 (2)"},
      {"method":"Quantitative","group":"Overall","risk":"Low risk","t":2,"label":"846 (1)"},
      {"method":"Quantitative","group":"Overall","risk":"Low risk","t":3,"label":"813 (1)"},
      {"method":"Quantitative","group":"Overall","risk":"Low risk","t":4,"label":"704 (63)"},
      {"method":"Quantitative","group":"Overall","risk":"Low risk","t":5,"label":"446 (247)"},
      {"method":"Quantitative","group":"Overall","risk":"Low risk","t":6,"label":"286 (386)"},
      {"method":"Quantitative","group":"Overall","risk":"Low risk","t":7,"label":"152 (506)"},
      {"method":"Quantitative","group":"Overall","risk":"Low risk","t":8,"label":"46 (596)"},
      {"method":"Quantitative","group":"Overall","risk":"High risk","t":0,"label":"417 (0)"},
      {"method":"Quantitative","group":"Overall","risk":"High risk","t":1,"label":"408 (0)"},
      {"method":"Quantitative","group":"Overall","risk":"High risk","t":2,"label":"360 (1)"},
      {"method":"Quantitative","group":"Overall","risk":"High risk","t":3,"label":"298 (16)"},
      {"method":"Quantitative","group":"Overall","risk":"High risk","t":4,"label":"208 (67)"},
      {"method":"Quantitative","group":"Overall","risk":"High risk","t":5,"label":"112 (128)"},
      {"method":"Quantitative","group":"Overall","risk":"High risk","t":6,"label":"47 (176)"},
      {"method":"Quantitative","group":"Overall","risk":"High risk","t":7,"label":"26 (199)"},
      {"method":"Quantitative","group":"Overall","risk":"High risk","t":8,"label":"11 (212)"},
      {"method":"Quantitative","group":"Initial","risk":"Low risk","t":0,"label":"204 (0)"},
      {"method":"Quantitative","group":"Initial","risk":"Low risk","t":1,"label":"201 (0)"},
      {"method":"Quantitative","group":"Initial","risk":"Low risk","t":2,"label":"197 (0)"},
      {"method":"Quantitative","group":"Initial","risk":"Low risk","t":3,"label":"186 (2)"},
      {"method":"Quantitative","group":"Initial","risk":"Low risk","t":4,"label":"142 (40)"},
      {"method":"Quantitative","group":"Initial","risk":"Low risk","t":5,"label":"87 (86)"},
      {"method":"Quantitative","group":"Initial","risk":"Low risk","t":6,"label":"56 (120)"},
      {"method":"Quantitative","group":"Initial","risk":"Low risk","t":7,"label":"41 (148)"},
      {"method":"Quantitative","group":"Initial","risk":"Low risk","t":8,"label":"14 (173)"},
      {"method":"Quantitative","group":"Initial","risk":"High risk","t":0,"label":"28 (0)"},
      {"method":"Quantitative","group":"Initial","risk":"High risk","t":1,"label":"28 (0)"},
      {"method":"Quantitative","group":"Initial","risk":"High risk","t":2,"label":"24 (0)"},
      {"method":"Quantitative","group":"Initial","risk":"High risk","t":3,"label":"16 (0)"},
      {"method":"Quantitative","group":"Initial","risk":"High risk","t":4,"label":"12 (1)"},
      {"method":"Quantitative","group":"Initial","risk":"High risk","t":5,"label":"8 (7)"},
      {"method":"Quantitative","group":"Initial","risk":"High risk","t":6,"label":"2 (10)"},
      {"method":"Quantitative","group":"Initial","risk":"High risk","t":7,"label":"1 (11)"},
      {"method":"Quantitative","group":"Initial","risk":"High risk","t":8,"label":"0 (12)"},
      {"method":"Quantitative","group":"BCR","risk":"Low risk","t":0,"label":"340 (0)"},
      {"method":"Quantitative","group":"BCR","risk":"Low risk","t":1,"label":"336 (0)"},
      {"method":"Quantitative","group":"BCR","risk":"Low risk","t":2,"label":"334 (0)"},
      {"method":"Quantitative","group":"BCR","risk":"Low risk","t":3,"label":"321 (3)"},
      {"method":"Quantitative","group":"BCR","risk":"Low risk","t":4,"label":"256 (41)"},
      {"method":"Quantitative","group":"BCR","risk":"Low risk","t":5,"label":"153 (120)"},
      {"method":"Quantitative","group":"BCR","risk":"Low risk","t":6,"label":"87 (216)"},
      {"method":"Quantitative","group":"BCR","risk":"Low risk","t":7,"label":"47 (255)"},
      {"method":"Quantitative","group":"BCR","risk":"Low risk","t":8,"label":"17 (277)"},
      {"method":"Quantitative","group":"BCR","risk":"High risk","t":0,"label":"70 (0)"},
      {"method":"Quantitative","group":"BCR","risk":"High risk","t":1,"label":"66 (0)"},
      {"method":"Quantitative","group":"BCR","risk":"High risk","t":2,"label":"58 (0)"},
      {"method":"Quantitative","group":"BCR","risk":"High risk","t":3,"label":"55 (2)"},
      {"method":"Quantitative","group":"BCR","risk":"High risk","t":4,"label":"41 (7)"},
      {"method":"Quantitative","group":"BCR","risk":"High risk","t":5,"label":"16 (24)"},
      {"method":"Quantitative","group":"BCR","risk":"High risk","t":6,"label":"6 (29)"},
      {"method":"Quantitative","group":"BCR","risk":"High risk","t":7,"label":"2 (37)"},
      {"method":"Quantitative","group":"BCR","risk":"High risk","t":8,"label":"2 (37)"},
      {"method":"Quantitative","group":"mHSPC","risk":"Low risk","t":0,"label":"132 (0)"},
      {"method":"Quantitative","group":"mHSPC","risk":"Low risk","t":1,"label":"131 (0)"},
      {"method":"Quantitative","group":"mHSPC","risk":"Low risk","t":2,"label":"128 (0)"},
      {"method":"Quantitative","group":"mHSPC","risk":"Low risk","t":3,"label":"125 (0)"},
      {"method":"Quantitative","group":"mHSPC","risk":"Low risk","t":4,"label":"96 (25)"},
      {"method":"Quantitative","group":"mHSPC","risk":"Low risk","t":5,"label":"56 (37)"},
      {"method":"Quantitative","group":"mHSPC","risk":"Low risk","t":6,"label":"28 (67)"},
      {"method":"Quantitative","group":"mHSPC","risk":"Low risk","t":7,"label":"18 (97)"},
      {"method":"Quantitative","group":"mHSPC","risk":"Low risk","t":8,"label":"4 (110)"},
      {"method":"Quantitative","group":"mHSPC","risk":"High risk","t":0,"label":"128 (0)"},
      {"method":"Quantitative","group":"mHSPC","risk":"High risk","t":1,"label":"113 (0)"},
      {"method":"Quantitative","group":"mHSPC","risk":"High risk","t":2,"label":"96 (0)"},
      {"method":"Quantitative","group":"mHSPC","risk":"High risk","t":3,"label":"87 (2)"},
      {"method":"Quantitative","group":"mHSPC","risk":"High risk","t":4,"label":"57 (17)"},
      {"method":"Quantitative","group":"mHSPC","risk":"High risk","t":5,"label":"28 (37)"},
      {"method":"Quantitative","group":"mHSPC","risk":"High risk","t":6,"label":"8 (51)"},
      {"method":"Quantitative","group":"mHSPC","risk":"High risk","t":7,"label":"4 (54)"},
      {"method":"Quantitative","group":"mHSPC","risk":"High risk","t":8,"label":"1 (56)"},
      {"method":"Quantitative","group":"mCRPC","risk":"Low risk","t":0,"label":"47 (0)"},
      {"method":"Quantitative","group":"mCRPC","risk":"Low risk","t":1,"label":"46 (0)"},
      {"method":"Quantitative","group":"mCRPC","risk":"Low risk","t":2,"label":"40 (1)"},
      {"method":"Quantitative","group":"mCRPC","risk":"Low risk","t":3,"label":"35 (1)"},
      {"method":"Quantitative","group":"mCRPC","risk":"Low risk","t":4,"label":"22 (10)"},
      {"method":"Quantitative","group":"mCRPC","risk":"Low risk","t":5,"label":"14 (15)"},
      {"method":"Quantitative","group":"mCRPC","risk":"Low risk","t":6,"label":"10 (13)"},
      {"method":"Quantitative","group":"mCRPC","risk":"Low risk","t":7,"label":"3 (20)"},
      {"method":"Quantitative","group":"mCRPC","risk":"Low risk","t":8,"label":"0 (27)"},
      {"method":"Quantitative","group":"mCRPC","risk":"High risk","t":0,"label":"306 (0)"},
      {"method":"Quantitative","group":"mCRPC","risk":"High risk","t":1,"label":"168 (0)"},
      {"method":"Quantitative","group":"mCRPC","risk":"High risk","t":2,"label":"104 (1)"},
      {"method":"Quantitative","group":"mCRPC","risk":"High risk","t":3,"label":"67 (10)"},
      {"method":"Quantitative","group":"mCRPC","risk":"High risk","t":4,"label":"37 (22)"},
      {"method":"Quantitative","group":"mCRPC","risk":"High risk","t":5,"label":"20 (40)"},
      {"method":"Quantitative","group":"mCRPC","risk":"High risk","t":6,"label":"4 (50)"},
      {"method":"Quantitative","group":"mCRPC","risk":"High risk","t":7,"label":"2 (50)"},
      {"method":"Quantitative","group":"mCRPC","risk":"High risk","t":8,"label":"0 (52)"}
    ]
  },
  "columns": 5,
  "spacing": {"row": 58, "column": 23},
  "bounds": "flush",
  "concat": [
    {
      "width": 163, "height": 140,
      "title": {"text": "Overall", "dx": 4},
      "resolve": {"scale": {"y": "independent"}, "axis": {"y": "independent"}},
      "layer": [
        {"data": {"name": "visual_overall"},
         "mark": {"type": "area", "interpolate": "step-after", "opacity": 0.55},
         "encoding": {
           "x": {"field": "t", "type": "quantitative", "scale": {"domain": [0, 8.7], "nice": false}, "axis": {"values": [0,1,2,3,4,5,6,7,8], "title": "Time from PET (year)"}},
           "y": {"field": "lo", "type": "quantitative", "scale": {"domain": [0, 1]}, "axis": {"values": [0,0.25,0.5,0.75,1], "format": ".2f", "title": ["Visual PROMISE Nomogram", "Overall Survival Probability"], "titleX": -40, "titleY": 70, "titleFontSize": 7.5, "titleLineHeight": 14, "titleAngle": -90, "titleAlign": "center", "titleBaseline": "middle", "titleColor": "#444444"}},
           "y2": {"field": "hi"},
           "detail": {"field": "risk"},
           "fill": {"condition": {"test": "datum.risk == 'Low risk'", "value": "#c2dbb0"}, "value": "#e57a48"}
         }},
        {"data": {"name": "visual_overall"},
         "mark": {"type": "line", "interpolate": "step-after", "strokeWidth": 1.3},
         "encoding": {
           "x": {"field": "t", "type": "quantitative", "scale": {"domain": [0, 8.7], "nice": false}},
           "y": {"field": "s", "type": "quantitative", "scale": {"domain": [0, 1]}, "axis": {"orient": "left", "domain": false, "ticks": false, "labels": false, "title": "Visual", "titleX": -64, "titleY": 62, "titleFontSize": 26, "titleFontWeight": "bold", "titleColor": "#1c2a5a", "titleAngle": -90, "titleAlign": "center", "titleBaseline": "middle"}},
           "stroke": {"field": "risk", "type": "nominal", "scale": {"domain": ["Low risk", "High risk"], "range": ["#86b475", "#9b2d1c"]},
             "legend": {"orient": "none", "legendX": -161, "legendY": -63, "title": "PSMA-PET PROMISE", "titleLimit": 400, "titleFontSize": 20, "titleFontWeight": "bold", "titleColor": "#111111", "titlePadding": 3, "labelFontSize": 18, "labelColor": "#666666", "labelOffset": 15.5, "symbolType": "M-2,0L2,0M0,-0.7L0,0.7", "symbolSize": 441, "symbolOffset": 12.5, "symbolStrokeWidth": 4.5, "symbolOpacity": 1, "rowPadding": -17, "padding": 0}}
         }},
        {"data": {"name": "insets"},
         "transform": [{"filter": "datum.method == 'Visual' && datum.group == 'Overall' && datum.line == 'head'"}],
         "mark": {"type": "text", "align": "left", "baseline": "middle", "fontSize": 5.5, "fontWeight": "bold", "dx": 19, "color": "#333333"},
         "encoding": {
           "x": {"datum": 0, "scale": {"domain": [0, 8.7], "nice": false}},
           "y": {"field": "line", "type": "nominal", "scale": {"type": "point", "domain": ["head", "Low risk", "High risk"], "range": [120, 138], "padding": 0}, "axis": null},
           "text": {"field": "label"}
         }},
        {"data": {"name": "insets"},
         "transform": [{"filter": "datum.method == 'Visual' && datum.group == 'Overall' && datum.line != 'head'"}],
         "mark": {"type": "text", "align": "left", "baseline": "middle", "fontSize": 5.5, "dx": 19},
         "encoding": {
           "x": {"datum": 0, "scale": {"domain": [0, 8.7], "nice": false}},
           "y": {"field": "line", "type": "nominal", "scale": {"type": "point", "domain": ["head", "Low risk", "High risk"], "range": [120, 138], "padding": 0}, "axis": null},
           "color": {"condition": {"test": "datum.line == 'Low risk'", "value": "#98a88c"}, "value": "#555555"},
           "text": {"field": "label"}
         }},
        {"data": {"name": "insets"},
         "transform": [{"filter": "datum.method == 'Visual' && datum.group == 'Overall' && datum.line != 'head'"}],
         "mark": {"type": "rule", "strokeWidth": 2},
         "encoding": {
           "x": {"datum": 0.05, "scale": {"domain": [0, 8.7], "nice": false}},
           "x2": {"datum": 0.85},
           "y": {"field": "line", "type": "nominal", "scale": {"type": "point", "domain": ["head", "Low risk", "High risk"], "range": [120, 138], "padding": 0}, "axis": null},
           "stroke": {"condition": {"test": "datum.line == 'Low risk'", "value": "#86b475"}, "value": "#9b2d1c"}
         }},
        {"data": {"name": "atrisk"},
         "transform": [{"filter": "datum.method == 'Visual' && datum.group == 'Overall'"}],
         "mark": {"type": "text", "fontSize": 4.5, "color": "#666666", "baseline": "middle"},
         "encoding": {
           "x": {"field": "t", "type": "quantitative", "scale": {"domain": [0, 8.7], "nice": false}},
           "y": {"field": "risk", "type": "nominal", "scale": {"type": "point", "domain": ["Low risk", "High risk"], "range": [176, 187], "padding": 0}, "axis": {"orient": "left", "domain": false, "ticks": false, "tickSize": 0, "labelAlign": "left", "labelPadding": 46, "labelFontSize": 5, "labelColor": "#555555", "title": ["Number at risk", "(number censored)"], "titleAngle": 0, "titleAlign": "left", "titleBaseline": "alphabetic", "titleX": -46, "titleY": 157, "titleFontSize": 5.5, "titleLineHeight": 7, "titleColor": "#555555"}},
           "text": {"field": "label"}
         }}
      ]
    },
    {
      "width": 163, "height": 140,
      "title": {"text": "Initial"},
      "resolve": {"scale": {"y": "independent"}, "axis": {"y": "independent"}},
      "layer": [
        {"data": {"name": "visual_initial"},
         "mark": {"type": "area", "interpolate": "step-after", "opacity": 0.55},
         "encoding": {
           "x": {"field": "t", "type": "quantitative", "scale": {"domain": [0, 8.7], "nice": false}, "axis": {"values": [0,1,2,3,4,5,6,7,8], "title": "Time from PET (year)"}},
           "y": {"field": "lo", "type": "quantitative", "scale": {"domain": [0, 1]}, "axis": {"values": [0,0.25,0.5,0.75,1], "format": ".2f", "title": null}},
           "y2": {"field": "hi"},
           "detail": {"field": "risk"},
           "fill": {"condition": {"test": "datum.risk == 'Low risk'", "value": "#c2dbb0"}, "value": "#e57a48"}
         }},
        {"data": {"name": "visual_initial"},
         "mark": {"type": "line", "interpolate": "step-after", "strokeWidth": 1.3},
         "encoding": {
           "x": {"field": "t", "type": "quantitative", "scale": {"domain": [0, 8.7], "nice": false}},
           "y": {"field": "s", "type": "quantitative", "scale": {"domain": [0, 1]}, "axis": null},
           "stroke": {"field": "risk", "type": "nominal", "scale": {"domain": ["Low risk", "High risk"], "range": ["#86b475", "#9b2d1c"]}}
         }},
        {"data": {"name": "insets"},
         "transform": [{"filter": "datum.method == 'Visual' && datum.group == 'Initial' && datum.line == 'head'"}],
         "mark": {"type": "text", "align": "left", "baseline": "middle", "fontSize": 5.5, "fontWeight": "bold", "dx": 18, "color": "#333333"},
         "encoding": {
           "x": {"datum": 0, "scale": {"domain": [0, 8.7], "nice": false}},
           "y": {"field": "line", "type": "nominal", "scale": {"type": "point", "domain": ["head", "Low risk", "High risk"], "range": [120, 138], "padding": 0}, "axis": null},
           "text": {"field": "label"}
         }},
        {"data": {"name": "insets"},
         "transform": [{"filter": "datum.method == 'Visual' && datum.group == 'Initial' && datum.line != 'head'"}],
         "mark": {"type": "text", "align": "left", "baseline": "middle", "fontSize": 5.5, "dx": 18},
         "encoding": {
           "x": {"datum": 0, "scale": {"domain": [0, 8.7], "nice": false}},
           "y": {"field": "line", "type": "nominal", "scale": {"type": "point", "domain": ["head", "Low risk", "High risk"], "range": [120, 138], "padding": 0}, "axis": null},
           "color": {"condition": {"test": "datum.line == 'Low risk'", "value": "#98a88c"}, "value": "#555555"},
           "text": {"field": "label"}
         }},
        {"data": {"name": "insets"},
         "transform": [{"filter": "datum.method == 'Visual' && datum.group == 'Initial' && datum.line != 'head'"}],
         "mark": {"type": "rule", "strokeWidth": 2},
         "encoding": {
           "x": {"datum": 0.05, "scale": {"domain": [0, 8.7], "nice": false}},
           "x2": {"datum": 0.75},
           "y": {"field": "line", "type": "nominal", "scale": {"type": "point", "domain": ["head", "Low risk", "High risk"], "range": [120, 138], "padding": 0}, "axis": null},
           "stroke": {"condition": {"test": "datum.line == 'Low risk'", "value": "#86b475"}, "value": "#9b2d1c"}
         }},
        {"data": {"name": "atrisk"},
         "transform": [{"filter": "datum.method == 'Visual' && datum.group == 'Initial'"}],
         "mark": {"type": "text", "fontSize": 4.5, "color": "#666666", "baseline": "middle"},
         "encoding": {
           "x": {"field": "t", "type": "quantitative", "scale": {"domain": [0, 8.7], "nice": false}},
           "y": {"field": "risk", "type": "nominal", "scale": {"type": "point", "domain": ["Low risk", "High risk"], "range": [176, 187], "padding": 0}, "axis": null},
           "text": {"field": "label"}
         }}
      ]
    },
    {
      "width": 163, "height": 140,
      "title": {"text": "BCR", "dx": -15},
      "resolve": {"scale": {"y": "independent"}, "axis": {"y": "independent"}},
      "layer": [
        {"data": {"name": "visual_bcr"},
         "mark": {"type": "area", "interpolate": "step-after", "opacity": 0.55},
         "encoding": {
           "x": {"field": "t", "type": "quantitative", "scale": {"domain": [0, 8.7], "nice": false}, "axis": {"values": [0,1,2,3,4,5,6,7,8], "title": "Time from PET (year)"}},
           "y": {"field": "lo", "type": "quantitative", "scale": {"domain": [0, 1]}, "axis": {"values": [0,0.25,0.5,0.75,1], "format": ".2f", "title": null}},
           "y2": {"field": "hi"},
           "detail": {"field": "risk"},
           "fill": {"condition": {"test": "datum.risk == 'Low risk'", "value": "#c2dbb0"}, "value": "#e57a48"}
         }},
        {"data": {"name": "visual_bcr"},
         "mark": {"type": "line", "interpolate": "step-after", "strokeWidth": 1.3},
         "encoding": {
           "x": {"field": "t", "type": "quantitative", "scale": {"domain": [0, 8.7], "nice": false}},
           "y": {"field": "s", "type": "quantitative", "scale": {"domain": [0, 1]}, "axis": null},
           "stroke": {"field": "risk", "type": "nominal", "scale": {"domain": ["Low risk", "High risk"], "range": ["#86b475", "#9b2d1c"]}}
         }},
        {"data": {"name": "insets"},
         "transform": [{"filter": "datum.method == 'Visual' && datum.group == 'BCR' && datum.line == 'head'"}],
         "mark": {"type": "text", "align": "left", "baseline": "middle", "fontSize": 5.5, "fontWeight": "bold", "dx": 18, "color": "#333333"},
         "encoding": {
           "x": {"datum": 0, "scale": {"domain": [0, 8.7], "nice": false}},
           "y": {"field": "line", "type": "nominal", "scale": {"type": "point", "domain": ["head", "Low risk", "High risk"], "range": [120, 138], "padding": 0}, "axis": null},
           "text": {"field": "label"}
         }},
        {"data": {"name": "insets"},
         "transform": [{"filter": "datum.method == 'Visual' && datum.group == 'BCR' && datum.line != 'head'"}],
         "mark": {"type": "text", "align": "left", "baseline": "middle", "fontSize": 5.5, "dx": 18},
         "encoding": {
           "x": {"datum": 0, "scale": {"domain": [0, 8.7], "nice": false}},
           "y": {"field": "line", "type": "nominal", "scale": {"type": "point", "domain": ["head", "Low risk", "High risk"], "range": [120, 138], "padding": 0}, "axis": null},
           "color": {"condition": {"test": "datum.line == 'Low risk'", "value": "#98a88c"}, "value": "#555555"},
           "text": {"field": "label"}
         }},
        {"data": {"name": "insets"},
         "transform": [{"filter": "datum.method == 'Visual' && datum.group == 'BCR' && datum.line != 'head'"}],
         "mark": {"type": "rule", "strokeWidth": 2},
         "encoding": {
           "x": {"datum": 0.05, "scale": {"domain": [0, 8.7], "nice": false}},
           "x2": {"datum": 0.75},
           "y": {"field": "line", "type": "nominal", "scale": {"type": "point", "domain": ["head", "Low risk", "High risk"], "range": [120, 138], "padding": 0}, "axis": null},
           "stroke": {"condition": {"test": "datum.line == 'Low risk'", "value": "#86b475"}, "value": "#9b2d1c"}
         }},
        {"data": {"name": "atrisk"},
         "transform": [{"filter": "datum.method == 'Visual' && datum.group == 'BCR'"}],
         "mark": {"type": "text", "fontSize": 4.5, "color": "#666666", "baseline": "middle"},
         "encoding": {
           "x": {"field": "t", "type": "quantitative", "scale": {"domain": [0, 8.7], "nice": false}},
           "y": {"field": "risk", "type": "nominal", "scale": {"type": "point", "domain": ["Low risk", "High risk"], "range": [176, 187], "padding": 0}, "axis": null},
           "text": {"field": "label"}
         }}
      ]
    },
    {
      "width": 163, "height": 140,
      "title": {"text": "mHSPC", "dx": 2},
      "resolve": {"scale": {"y": "independent"}, "axis": {"y": "independent"}},
      "layer": [
        {"data": {"name": "visual_mhspc"},
         "mark": {"type": "area", "interpolate": "step-after", "opacity": 0.55},
         "encoding": {
           "x": {"field": "t", "type": "quantitative", "scale": {"domain": [0, 8.7], "nice": false}, "axis": {"values": [0,1,2,3,4,5,6,7,8], "title": "Time from PET (year)"}},
           "y": {"field": "lo", "type": "quantitative", "scale": {"domain": [0, 1]}, "axis": {"values": [0,0.25,0.5,0.75,1], "format": ".2f", "title": null}},
           "y2": {"field": "hi"},
           "detail": {"field": "risk"},
           "fill": {"condition": {"test": "datum.risk == 'Low risk'", "value": "#c2dbb0"}, "value": "#e57a48"}
         }},
        {"data": {"name": "visual_mhspc"},
         "mark": {"type": "line", "interpolate": "step-after", "strokeWidth": 1.3},
         "encoding": {
           "x": {"field": "t", "type": "quantitative", "scale": {"domain": [0, 8.7], "nice": false}},
           "y": {"field": "s", "type": "quantitative", "scale": {"domain": [0, 1]}, "axis": null},
           "stroke": {"field": "risk", "type": "nominal", "scale": {"domain": ["Low risk", "High risk"], "range": ["#86b475", "#9b2d1c"]}}
         }},
        {"data": {"name": "insets"},
         "transform": [{"filter": "datum.method == 'Visual' && datum.group == 'mHSPC' && datum.line == 'head'"}],
         "mark": {"type": "text", "align": "left", "baseline": "middle", "fontSize": 5.5, "fontWeight": "bold", "dx": 18, "color": "#333333"},
         "encoding": {
           "x": {"datum": 0, "scale": {"domain": [0, 8.7], "nice": false}},
           "y": {"field": "line", "type": "nominal", "scale": {"type": "point", "domain": ["head", "Low risk", "High risk"], "range": [120, 138], "padding": 0}, "axis": null},
           "text": {"field": "label"}
         }},
        {"data": {"name": "insets"},
         "transform": [{"filter": "datum.method == 'Visual' && datum.group == 'mHSPC' && datum.line != 'head'"}],
         "mark": {"type": "text", "align": "left", "baseline": "middle", "fontSize": 5.5, "dx": 18},
         "encoding": {
           "x": {"datum": 0, "scale": {"domain": [0, 8.7], "nice": false}},
           "y": {"field": "line", "type": "nominal", "scale": {"type": "point", "domain": ["head", "Low risk", "High risk"], "range": [120, 138], "padding": 0}, "axis": null},
           "color": {"condition": {"test": "datum.line == 'Low risk'", "value": "#98a88c"}, "value": "#555555"},
           "text": {"field": "label"}
         }},
        {"data": {"name": "insets"},
         "transform": [{"filter": "datum.method == 'Visual' && datum.group == 'mHSPC' && datum.line != 'head'"}],
         "mark": {"type": "rule", "strokeWidth": 2},
         "encoding": {
           "x": {"datum": 0.05, "scale": {"domain": [0, 8.7], "nice": false}},
           "x2": {"datum": 0.75},
           "y": {"field": "line", "type": "nominal", "scale": {"type": "point", "domain": ["head", "Low risk", "High risk"], "range": [120, 138], "padding": 0}, "axis": null},
           "stroke": {"condition": {"test": "datum.line == 'Low risk'", "value": "#86b475"}, "value": "#9b2d1c"}
         }},
        {"data": {"name": "atrisk"},
         "transform": [{"filter": "datum.method == 'Visual' && datum.group == 'mHSPC'"}],
         "mark": {"type": "text", "fontSize": 4.5, "color": "#666666", "baseline": "middle"},
         "encoding": {
           "x": {"field": "t", "type": "quantitative", "scale": {"domain": [0, 8.7], "nice": false}},
           "y": {"field": "risk", "type": "nominal", "scale": {"type": "point", "domain": ["Low risk", "High risk"], "range": [176, 187], "padding": 0}, "axis": null},
           "text": {"field": "label"}
         }}
      ]
    },
    {
      "width": 163, "height": 140,
      "title": {"text": "mCRPC", "dx": -11},
      "resolve": {"scale": {"y": "independent"}, "axis": {"y": "independent"}},
      "layer": [
        {"data": {"name": "visual_mcrpc"},
         "mark": {"type": "area", "interpolate": "step-after", "opacity": 0.55},
         "encoding": {
           "x": {"field": "t", "type": "quantitative", "scale": {"domain": [0, 8.7], "nice": false}, "axis": {"values": [0,1,2,3,4,5,6,7,8], "title": "Time from PET (year)"}},
           "y": {"field": "lo", "type": "quantitative", "scale": {"domain": [0, 1]}, "axis": {"values": [0,0.25,0.5,0.75,1], "format": ".2f", "title": null}},
           "y2": {"field": "hi"},
           "detail": {"field": "risk"},
           "fill": {"condition": {"test": "datum.risk == 'Low risk'", "value": "#c2dbb0"}, "value": "#e57a48"}
         }},
        {"data": {"name": "visual_mcrpc"},
         "mark": {"type": "line", "interpolate": "step-after", "strokeWidth": 1.3},
         "encoding": {
           "x": {"field": "t", "type": "quantitative", "scale": {"domain": [0, 8.7], "nice": false}},
           "y": {"field": "s", "type": "quantitative", "scale": {"domain": [0, 1]}, "axis": null},
           "stroke": {"field": "risk", "type": "nominal", "scale": {"domain": ["Low risk", "High risk"], "range": ["#86b475", "#9b2d1c"]}}
         }},
        {"data": {"name": "insets"},
         "transform": [{"filter": "datum.method == 'Visual' && datum.group == 'mCRPC' && datum.line == 'head'"}],
         "mark": {"type": "text", "align": "left", "baseline": "middle", "fontSize": 5.5, "fontWeight": "bold", "dx": 2, "color": "#333333"},
         "encoding": {
           "x": {"datum": 0, "scale": {"domain": [0, 8.7], "nice": false}},
           "y": {"field": "line", "type": "nominal", "scale": {"type": "point", "domain": ["head", "Low risk", "High risk"], "range": [122, 136], "padding": 0}, "axis": null},
           "text": {"field": "label"}
         }},
        {"data": {"name": "insets"},
         "transform": [{"filter": "datum.method == 'Visual' && datum.group == 'mCRPC' && datum.line != 'head'"}],
         "mark": {"type": "text", "align": "left", "baseline": "middle", "fontSize": 5.5, "dx": 2},
         "encoding": {
           "x": {"datum": 0, "scale": {"domain": [0, 8.7], "nice": false}},
           "y": {"field": "line", "type": "nominal", "scale": {"type": "point", "domain": ["head", "Low risk", "High risk"], "range": [122, 136], "padding": 0}, "axis": null},
           "color": {"condition": {"test": "datum.line == 'Low risk'", "value": "#98a88c"}, "value": "#555555"},
           "text": {"field": "label"}
         }},
        {"data": {"name": "atrisk"},
         "transform": [{"filter": "datum.method == 'Visual' && datum.group == 'mCRPC'"}],
         "mark": {"type": "text", "fontSize": 4.5, "color": "#666666", "baseline": "middle"},
         "encoding": {
           "x": {"field": "t", "type": "quantitative", "scale": {"domain": [0, 8.7], "nice": false}},
           "y": {"field": "risk", "type": "nominal", "scale": {"type": "point", "domain": ["Low risk", "High risk"], "range": [176, 187], "padding": 0}, "axis": null},
           "text": {"field": "label"}
         }}
      ]
    },
    {
      "width": 163, "height": 140,
      "resolve": {"scale": {"y": "independent"}, "axis": {"y": "independent"}},
      "layer": [
        {"data": {"name": "quant_overall"},
         "mark": {"type": "area", "interpolate": "step-after", "opacity": 0.55},
         "encoding": {
           "x": {"field": "t", "type": "quantitative", "scale": {"domain": [0, 8.7], "nice": false}, "axis": {"values": [0,1,2,3,4,5,6,7,8], "title": "Time from PET (year)"}},
           "y": {"field": "lo", "type": "quantitative", "scale": {"domain": [0, 1]}, "axis": {"values": [0,0.25,0.5,0.75,1], "format": ".2f", "title": ["Quantitative PROMISE Nomogram", "Overall Survival Probability"], "titleX": -40, "titleY": 70, "titleFontSize": 7.5, "titleLineHeight": 14, "titleAngle": -90, "titleAlign": "center", "titleBaseline": "middle", "titleColor": "#444444"}},
           "y2": {"field": "hi"},
           "detail": {"field": "risk"},
           "fill": {"condition": {"test": "datum.risk == 'Low risk'", "value": "#c2dbb0"}, "value": "#e57a48"}
         }},
        {"data": {"name": "quant_overall"},
         "mark": {"type": "line", "interpolate": "step-after", "strokeWidth": 1.3},
         "encoding": {
           "x": {"field": "t", "type": "quantitative", "scale": {"domain": [0, 8.7], "nice": false}},
           "y": {"field": "s", "type": "quantitative", "scale": {"domain": [0, 1]}, "axis": {"orient": "left", "domain": false, "ticks": false, "labels": false, "title": "Quantitative", "titleX": -64, "titleY": 79, "titleFontSize": 26, "titleFontWeight": "bold", "titleColor": "#1c2a5a", "titleAngle": -90, "titleAlign": "center", "titleBaseline": "middle"}},
           "stroke": {"field": "risk", "type": "nominal", "scale": {"domain": ["Low risk", "High risk"], "range": ["#86b475", "#9b2d1c"]}}
         }},
        {"data": {"name": "insets"},
         "transform": [{"filter": "datum.method == 'Quantitative' && datum.group == 'Overall' && datum.line == 'head'"}],
         "mark": {"type": "text", "align": "left", "baseline": "middle", "fontSize": 5.5, "fontWeight": "bold", "dx": 19, "color": "#333333"},
         "encoding": {
           "x": {"datum": 0, "scale": {"domain": [0, 8.7], "nice": false}},
           "y": {"field": "line", "type": "nominal", "scale": {"type": "point", "domain": ["head", "Low risk", "High risk"], "range": [119, 137], "padding": 0}, "axis": null},
           "text": {"field": "label"}
         }},
        {"data": {"name": "insets"},
         "transform": [{"filter": "datum.method == 'Quantitative' && datum.group == 'Overall' && datum.line != 'head'"}],
         "mark": {"type": "text", "align": "left", "baseline": "middle", "fontSize": 5.5, "dx": 19},
         "encoding": {
           "x": {"datum": 0, "scale": {"domain": [0, 8.7], "nice": false}},
           "y": {"field": "line", "type": "nominal", "scale": {"type": "point", "domain": ["head", "Low risk", "High risk"], "range": [119, 137], "padding": 0}, "axis": null},
           "color": {"condition": {"test": "datum.line == 'Low risk'", "value": "#98a88c"}, "value": "#555555"},
           "text": {"field": "label"}
         }},
        {"data": {"name": "insets"},
         "transform": [{"filter": "datum.method == 'Quantitative' && datum.group == 'Overall' && datum.line != 'head'"}],
         "mark": {"type": "rule", "strokeWidth": 2},
         "encoding": {
           "x": {"datum": 0.05, "scale": {"domain": [0, 8.7], "nice": false}},
           "x2": {"datum": 0.85},
           "y": {"field": "line", "type": "nominal", "scale": {"type": "point", "domain": ["head", "Low risk", "High risk"], "range": [119, 137], "padding": 0}, "axis": null},
           "stroke": {"condition": {"test": "datum.line == 'Low risk'", "value": "#86b475"}, "value": "#9b2d1c"}
         }},
        {"data": {"name": "atrisk"},
         "transform": [{"filter": "datum.method == 'Quantitative' && datum.group == 'Overall'"}],
         "mark": {"type": "text", "fontSize": 4.5, "color": "#666666", "baseline": "middle"},
         "encoding": {
           "x": {"field": "t", "type": "quantitative", "scale": {"domain": [0, 8.7], "nice": false}},
           "y": {"field": "risk", "type": "nominal", "scale": {"type": "point", "domain": ["Low risk", "High risk"], "range": [176, 187], "padding": 0}, "axis": {"orient": "left", "domain": false, "ticks": false, "tickSize": 0, "labelAlign": "left", "labelPadding": 46, "labelFontSize": 5, "labelColor": "#555555", "title": ["Number at risk", "(number censored)"], "titleAngle": 0, "titleAlign": "left", "titleBaseline": "alphabetic", "titleX": -46, "titleY": 158, "titleFontSize": 5.5, "titleLineHeight": 7, "titleColor": "#555555"}},
           "text": {"field": "label"}
         }}
      ]
    },
    {
      "width": 163, "height": 140,
      "resolve": {"scale": {"y": "independent"}, "axis": {"y": "independent"}},
      "layer": [
        {"data": {"name": "quant_initial"},
         "mark": {"type": "area", "interpolate": "step-after", "opacity": 0.55},
         "encoding": {
           "x": {"field": "t", "type": "quantitative", "scale": {"domain": [0, 8.7], "nice": false}, "axis": {"values": [0,1,2,3,4,5,6,7,8], "title": "Time from PET (year)"}},
           "y": {"field": "lo", "type": "quantitative", "scale": {"domain": [0, 1]}, "axis": {"values": [0,0.25,0.5,0.75,1], "format": ".2f", "title": null}},
           "y2": {"field": "hi"},
           "detail": {"field": "risk"},
           "fill": {"condition": {"test": "datum.risk == 'Low risk'", "value": "#c2dbb0"}, "value": "#e57a48"}
         }},
        {"data": {"name": "quant_initial"},
         "mark": {"type": "line", "interpolate": "step-after", "strokeWidth": 1.3},
         "encoding": {
           "x": {"field": "t", "type": "quantitative", "scale": {"domain": [0, 8.7], "nice": false}},
           "y": {"field": "s", "type": "quantitative", "scale": {"domain": [0, 1]}, "axis": null},
           "stroke": {"field": "risk", "type": "nominal", "scale": {"domain": ["Low risk", "High risk"], "range": ["#86b475", "#9b2d1c"]}}
         }},
        {"data": {"name": "insets"},
         "transform": [{"filter": "datum.method == 'Quantitative' && datum.group == 'Initial' && datum.line == 'head'"}],
         "mark": {"type": "text", "align": "left", "baseline": "middle", "fontSize": 5.5, "fontWeight": "bold", "dx": 18, "color": "#333333"},
         "encoding": {
           "x": {"datum": 0, "scale": {"domain": [0, 8.7], "nice": false}},
           "y": {"field": "line", "type": "nominal", "scale": {"type": "point", "domain": ["head", "Low risk", "High risk"], "range": [119, 137], "padding": 0}, "axis": null},
           "text": {"field": "label"}
         }},
        {"data": {"name": "insets"},
         "transform": [{"filter": "datum.method == 'Quantitative' && datum.group == 'Initial' && datum.line != 'head'"}],
         "mark": {"type": "text", "align": "left", "baseline": "middle", "fontSize": 5.5, "dx": 18},
         "encoding": {
           "x": {"datum": 0, "scale": {"domain": [0, 8.7], "nice": false}},
           "y": {"field": "line", "type": "nominal", "scale": {"type": "point", "domain": ["head", "Low risk", "High risk"], "range": [119, 137], "padding": 0}, "axis": null},
           "color": {"condition": {"test": "datum.line == 'Low risk'", "value": "#98a88c"}, "value": "#555555"},
           "text": {"field": "label"}
         }},
        {"data": {"name": "insets"},
         "transform": [{"filter": "datum.method == 'Quantitative' && datum.group == 'Initial' && datum.line != 'head'"}],
         "mark": {"type": "rule", "strokeWidth": 2},
         "encoding": {
           "x": {"datum": 0.05, "scale": {"domain": [0, 8.7], "nice": false}},
           "x2": {"datum": 0.75},
           "y": {"field": "line", "type": "nominal", "scale": {"type": "point", "domain": ["head", "Low risk", "High risk"], "range": [119, 137], "padding": 0}, "axis": null},
           "stroke": {"condition": {"test": "datum.line == 'Low risk'", "value": "#86b475"}, "value": "#9b2d1c"}
         }},
        {"data": {"name": "atrisk"},
         "transform": [{"filter": "datum.method == 'Quantitative' && datum.group == 'Initial'"}],
         "mark": {"type": "text", "fontSize": 4.5, "color": "#666666", "baseline": "middle"},
         "encoding": {
           "x": {"field": "t", "type": "quantitative", "scale": {"domain": [0, 8.7], "nice": false}},
           "y": {"field": "risk", "type": "nominal", "scale": {"type": "point", "domain": ["Low risk", "High risk"], "range": [176, 187], "padding": 0}, "axis": null},
           "text": {"field": "label"}
         }}
      ]
    },
    {
      "width": 163, "height": 140,
      "resolve": {"scale": {"y": "independent"}, "axis": {"y": "independent"}},
      "layer": [
        {"data": {"name": "quant_bcr"},
         "mark": {"type": "area", "interpolate": "step-after", "opacity": 0.55},
         "encoding": {
           "x": {"field": "t", "type": "quantitative", "scale": {"domain": [0, 8.7], "nice": false}, "axis": {"values": [0,1,2,3,4,5,6,7,8], "title": "Time from PET (year)"}},
           "y": {"field": "lo", "type": "quantitative", "scale": {"domain": [0, 1]}, "axis": {"values": [0,0.25,0.5,0.75,1], "format": ".2f", "title": null}},
           "y2": {"field": "hi"},
           "detail": {"field": "risk"},
           "fill": {"condition": {"test": "datum.risk == 'Low risk'", "value": "#c2dbb0"}, "value": "#e57a48"}
         }},
        {"data": {"name": "quant_bcr"},
         "mark": {"type": "line", "interpolate": "step-after", "strokeWidth": 1.3},
         "encoding": {
           "x": {"field": "t", "type": "quantitative", "scale": {"domain": [0, 8.7], "nice": false}},
           "y": {"field": "s", "type": "quantitative", "scale": {"domain": [0, 1]}, "axis": null},
           "stroke": {"field": "risk", "type": "nominal", "scale": {"domain": ["Low risk", "High risk"], "range": ["#86b475", "#9b2d1c"]}}
         }},
        {"data": {"name": "insets"},
         "transform": [{"filter": "datum.method == 'Quantitative' && datum.group == 'BCR' && datum.line == 'head'"}],
         "mark": {"type": "text", "align": "left", "baseline": "middle", "fontSize": 5.5, "fontWeight": "bold", "dx": 18, "color": "#333333"},
         "encoding": {
           "x": {"datum": 0, "scale": {"domain": [0, 8.7], "nice": false}},
           "y": {"field": "line", "type": "nominal", "scale": {"type": "point", "domain": ["head", "Low risk", "High risk"], "range": [119, 137], "padding": 0}, "axis": null},
           "text": {"field": "label"}
         }},
        {"data": {"name": "insets"},
         "transform": [{"filter": "datum.method == 'Quantitative' && datum.group == 'BCR' && datum.line != 'head'"}],
         "mark": {"type": "text", "align": "left", "baseline": "middle", "fontSize": 5.5, "dx": 18},
         "encoding": {
           "x": {"datum": 0, "scale": {"domain": [0, 8.7], "nice": false}},
           "y": {"field": "line", "type": "nominal", "scale": {"type": "point", "domain": ["head", "Low risk", "High risk"], "range": [119, 137], "padding": 0}, "axis": null},
           "color": {"condition": {"test": "datum.line == 'Low risk'", "value": "#98a88c"}, "value": "#555555"},
           "text": {"field": "label"}
         }},
        {"data": {"name": "insets"},
         "transform": [{"filter": "datum.method == 'Quantitative' && datum.group == 'BCR' && datum.line != 'head'"}],
         "mark": {"type": "rule", "strokeWidth": 2},
         "encoding": {
           "x": {"datum": 0.05, "scale": {"domain": [0, 8.7], "nice": false}},
           "x2": {"datum": 0.75},
           "y": {"field": "line", "type": "nominal", "scale": {"type": "point", "domain": ["head", "Low risk", "High risk"], "range": [119, 137], "padding": 0}, "axis": null},
           "stroke": {"condition": {"test": "datum.line == 'Low risk'", "value": "#86b475"}, "value": "#9b2d1c"}
         }},
        {"data": {"name": "atrisk"},
         "transform": [{"filter": "datum.method == 'Quantitative' && datum.group == 'BCR'"}],
         "mark": {"type": "text", "fontSize": 4.5, "color": "#666666", "baseline": "middle"},
         "encoding": {
           "x": {"field": "t", "type": "quantitative", "scale": {"domain": [0, 8.7], "nice": false}},
           "y": {"field": "risk", "type": "nominal", "scale": {"type": "point", "domain": ["Low risk", "High risk"], "range": [176, 187], "padding": 0}, "axis": null},
           "text": {"field": "label"}
         }}
      ]
    },
    {
      "width": 163, "height": 140,
      "resolve": {"scale": {"y": "independent"}, "axis": {"y": "independent"}},
      "layer": [
        {"data": {"name": "quant_mhspc"},
         "mark": {"type": "area", "interpolate": "step-after", "opacity": 0.55},
         "encoding": {
           "x": {"field": "t", "type": "quantitative", "scale": {"domain": [0, 8.7], "nice": false}, "axis": {"values": [0,1,2,3,4,5,6,7,8], "title": "Time from PET (year)"}},
           "y": {"field": "lo", "type": "quantitative", "scale": {"domain": [0, 1]}, "axis": {"values": [0,0.25,0.5,0.75,1], "format": ".2f", "title": null}},
           "y2": {"field": "hi"},
           "detail": {"field": "risk"},
           "fill": {"condition": {"test": "datum.risk == 'Low risk'", "value": "#c2dbb0"}, "value": "#e57a48"}
         }},
        {"data": {"name": "quant_mhspc"},
         "mark": {"type": "line", "interpolate": "step-after", "strokeWidth": 1.3},
         "encoding": {
           "x": {"field": "t", "type": "quantitative", "scale": {"domain": [0, 8.7], "nice": false}},
           "y": {"field": "s", "type": "quantitative", "scale": {"domain": [0, 1]}, "axis": null},
           "stroke": {"field": "risk", "type": "nominal", "scale": {"domain": ["Low risk", "High risk"], "range": ["#86b475", "#9b2d1c"]}}
         }},
        {"data": {"name": "insets"},
         "transform": [{"filter": "datum.method == 'Quantitative' && datum.group == 'mHSPC' && datum.line == 'head'"}],
         "mark": {"type": "text", "align": "left", "baseline": "middle", "fontSize": 5.5, "fontWeight": "bold", "dx": 18, "color": "#333333"},
         "encoding": {
           "x": {"datum": 0, "scale": {"domain": [0, 8.7], "nice": false}},
           "y": {"field": "line", "type": "nominal", "scale": {"type": "point", "domain": ["head", "Low risk", "High risk"], "range": [119, 137], "padding": 0}, "axis": null},
           "text": {"field": "label"}
         }},
        {"data": {"name": "insets"},
         "transform": [{"filter": "datum.method == 'Quantitative' && datum.group == 'mHSPC' && datum.line != 'head'"}],
         "mark": {"type": "text", "align": "left", "baseline": "middle", "fontSize": 5.5, "dx": 18},
         "encoding": {
           "x": {"datum": 0, "scale": {"domain": [0, 8.7], "nice": false}},
           "y": {"field": "line", "type": "nominal", "scale": {"type": "point", "domain": ["head", "Low risk", "High risk"], "range": [119, 137], "padding": 0}, "axis": null},
           "color": {"condition": {"test": "datum.line == 'Low risk'", "value": "#98a88c"}, "value": "#555555"},
           "text": {"field": "label"}
         }},
        {"data": {"name": "insets"},
         "transform": [{"filter": "datum.method == 'Quantitative' && datum.group == 'mHSPC' && datum.line != 'head'"}],
         "mark": {"type": "rule", "strokeWidth": 2},
         "encoding": {
           "x": {"datum": 0.05, "scale": {"domain": [0, 8.7], "nice": false}},
           "x2": {"datum": 0.75},
           "y": {"field": "line", "type": "nominal", "scale": {"type": "point", "domain": ["head", "Low risk", "High risk"], "range": [119, 137], "padding": 0}, "axis": null},
           "stroke": {"condition": {"test": "datum.line == 'Low risk'", "value": "#86b475"}, "value": "#9b2d1c"}
         }},
        {"data": {"name": "atrisk"},
         "transform": [{"filter": "datum.method == 'Quantitative' && datum.group == 'mHSPC'"}],
         "mark": {"type": "text", "fontSize": 4.5, "color": "#666666", "baseline": "middle"},
         "encoding": {
           "x": {"field": "t", "type": "quantitative", "scale": {"domain": [0, 8.7], "nice": false}},
           "y": {"field": "risk", "type": "nominal", "scale": {"type": "point", "domain": ["Low risk", "High risk"], "range": [176, 187], "padding": 0}, "axis": null},
           "text": {"field": "label"}
         }}
      ]
    },
    {
      "width": 163, "height": 140,
      "resolve": {"scale": {"y": "independent"}, "axis": {"y": "independent"}},
      "layer": [
        {"data": {"name": "quant_mcrpc"},
         "mark": {"type": "area", "interpolate": "step-after", "opacity": 0.55},
         "encoding": {
           "x": {"field": "t", "type": "quantitative", "scale": {"domain": [0, 8.7], "nice": false}, "axis": {"values": [0,1,2,3,4,5,6,7,8], "title": "Time from PET (year)"}},
           "y": {"field": "lo", "type": "quantitative", "scale": {"domain": [0, 1]}, "axis": {"values": [0,0.25,0.5,0.75,1], "format": ".2f", "title": null}},
           "y2": {"field": "hi"},
           "detail": {"field": "risk"},
           "fill": {"condition": {"test": "datum.risk == 'Low risk'", "value": "#c2dbb0"}, "value": "#e57a48"}
         }},
        {"data": {"name": "quant_mcrpc"},
         "mark": {"type": "line", "interpolate": "step-after", "strokeWidth": 1.3},
         "encoding": {
           "x": {"field": "t", "type": "quantitative", "scale": {"domain": [0, 8.7], "nice": false}},
           "y": {"field": "s", "type": "quantitative", "scale": {"domain": [0, 1]}, "axis": null},
           "stroke": {"field": "risk", "type": "nominal", "scale": {"domain": ["Low risk", "High risk"], "range": ["#86b475", "#9b2d1c"]}}
         }},
        {"data": {"name": "insets"},
         "transform": [{"filter": "datum.method == 'Quantitative' && datum.group == 'mCRPC' && datum.line == 'head'"}],
         "mark": {"type": "text", "align": "left", "baseline": "middle", "fontSize": 5.5, "fontWeight": "bold", "dx": 2, "color": "#333333"},
         "encoding": {
           "x": {"datum": 0, "scale": {"domain": [0, 8.7], "nice": false}},
           "y": {"field": "line", "type": "nominal", "scale": {"type": "point", "domain": ["head", "Low risk", "High risk"], "range": [122, 136], "padding": 0}, "axis": null},
           "text": {"field": "label"}
         }},
        {"data": {"name": "insets"},
         "transform": [{"filter": "datum.method == 'Quantitative' && datum.group == 'mCRPC' && datum.line != 'head'"}],
         "mark": {"type": "text", "align": "left", "baseline": "middle", "fontSize": 5.5, "dx": 2},
         "encoding": {
           "x": {"datum": 0, "scale": {"domain": [0, 8.7], "nice": false}},
           "y": {"field": "line", "type": "nominal", "scale": {"type": "point", "domain": ["head", "Low risk", "High risk"], "range": [122, 136], "padding": 0}, "axis": null},
           "color": {"condition": {"test": "datum.line == 'Low risk'", "value": "#98a88c"}, "value": "#555555"},
           "text": {"field": "label"}
         }},
        {"data": {"name": "atrisk"},
         "transform": [{"filter": "datum.method == 'Quantitative' && datum.group == 'mCRPC'"}],
         "mark": {"type": "text", "fontSize": 4.5, "color": "#666666", "baseline": "middle"},
         "encoding": {
           "x": {"field": "t", "type": "quantitative", "scale": {"domain": [0, 8.7], "nice": false}},
           "y": {"field": "risk", "type": "nominal", "scale": {"type": "point", "domain": ["Low risk", "High risk"], "range": [176, 187], "padding": 0}, "axis": null},
           "text": {"field": "label"}
         }}
      ]
    }
  ]
}
